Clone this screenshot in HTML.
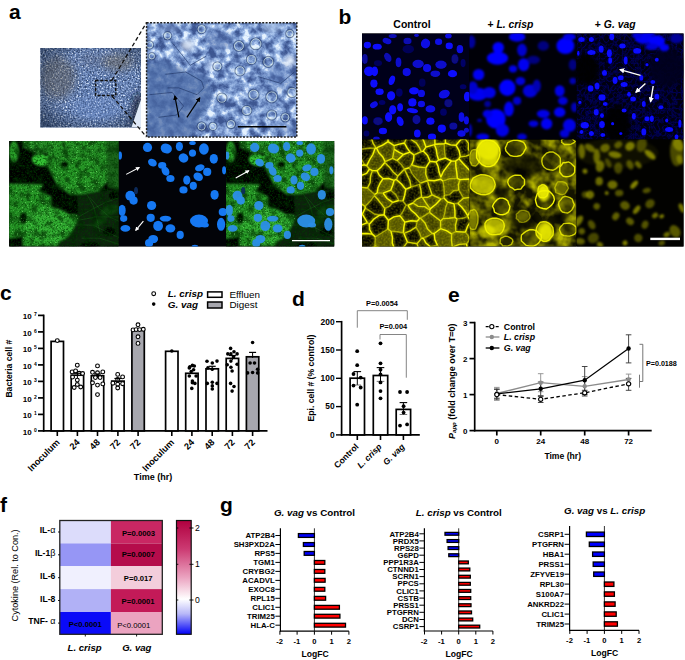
<!DOCTYPE html><html><head><meta charset="utf-8"><style>html,body{margin:0;padding:0;background:#fff;width:685px;height:660px;overflow:hidden}svg{display:block}</style></head><body><svg width="685" height="660" viewBox="0 0 685 660" font-family='"Liberation Sans", sans-serif'><defs><filter id="blur1" x="-20%" y="-20%" width="140%" height="140%"><feGaussianBlur stdDeviation="0.6"/></filter><filter id="blur2" x="-20%" y="-20%" width="140%" height="140%"><feGaussianBlur stdDeviation="1.2"/></filter><filter id="blur3" x="-20%" y="-20%" width="140%" height="140%"><feGaussianBlur stdDeviation="2.2"/></filter><clipPath id="cpS"><rect x="40.3" y="47.9" width="100.7" height="79.69999999999999"/></clipPath><filter id="bfS" color-interpolation-filters="sRGB" x="0" y="0" width="100%" height="100%"><feTurbulence type="fractalNoise" baseFrequency="0.6" numOctaves="3" seed="3" result="n"/><feColorMatrix in="n" type="matrix" values="1.8 0 0 0 -0.4  1.8 0 0 0 -0.4  1.8 0 0 0 -0.4  0 0 0 0 1" result="c"/><feComponentTransfer in="c"><feFuncR type="table" tableValues="0.2 0.3 0.4 0.54 0.85"/><feFuncG type="table" tableValues="0.28 0.4 0.51 0.64 0.9"/><feFuncB type="table" tableValues="0.44 0.58 0.71 0.82 0.97"/></feComponentTransfer></filter><filter id="blur4" x="-50%" y="-50%" width="200%" height="200%"><feGaussianBlur stdDeviation="4"/></filter><radialGradient id="vigS" cx="0.55" cy="0.45" r="0.75"><stop offset="0.55" stop-color="#000" stop-opacity="0"/><stop offset="1" stop-color="#061224" stop-opacity="0.55"/></radialGradient><clipPath id="cpZ"><rect x="146.6" y="22.8" width="150.20000000000002" height="114.2"/></clipPath><filter id="bfZ" color-interpolation-filters="sRGB" x="0" y="0" width="100%" height="100%"><feTurbulence type="fractalNoise" baseFrequency="0.12" numOctaves="4" seed="7" result="n"/><feColorMatrix in="n" type="matrix" values="2.1 0 0 0 -0.55  2.1 0 0 0 -0.55  2.1 0 0 0 -0.55  0 0 0 0 1" result="c"/><feComponentTransfer in="c"><feFuncR type="table" tableValues="0.24 0.35 0.48 0.64 0.9"/><feFuncG type="table" tableValues="0.34 0.46 0.6 0.75 0.95"/><feFuncB type="table" tableValues="0.57 0.69 0.81 0.92 1"/></feComponentTransfer></filter><filter id="rimf" x="-20%" y="-20%" width="140%" height="140%"><feGaussianBlur stdDeviation="0.35"/></filter><marker id="ahB" viewBox="0 0 10 10" refX="8" refY="5" markerWidth="4" markerHeight="4" orient="auto"><path d="M0 0 L10 5 L0 10 Z" fill="#000"/></marker><marker id="ahW" viewBox="0 0 10 10" refX="8" refY="5" markerWidth="3.8" markerHeight="3.8" orient="auto"><path d="M0 0 L10 5 L0 10 Z" fill="#fff"/></marker><clipPath id="cpG"><rect x="9.2" y="141.0" width="109.6" height="105.5"/></clipPath><clipPath id="cpB"><rect x="118.8" y="141.0" width="107.2" height="105.5"/></clipPath><clipPath id="cpM"><rect x="226.0" y="141.0" width="108.19999999999999" height="105.5"/></clipPath><filter id="speck" x="0" y="0" width="100%" height="100%"><feTurbulence type="fractalNoise" baseFrequency="0.9" numOctaves="1" seed="5" result="n"/><feColorMatrix in="n" type="matrix" values="0 0 0 0 0.55  0 0 0 0 1  0 0 0 0 0.45  4 0 0 0 -2.3"/><feComposite in2="SourceGraphic" operator="in"/></filter><filter id="gdark" x="0" y="0" width="100%" height="100%"><feTurbulence type="fractalNoise" baseFrequency="0.55" numOctaves="2" seed="8" result="n"/><feColorMatrix in="n" type="matrix" values="0 0 0 0 0  0 0 0 0 0.05  0 0 0 0 0  -3.2 0 0 0 1.75"/><feComposite in2="SourceGraphic" operator="in"/></filter><filter id="gblot" x="0" y="0" width="100%" height="100%"><feTurbulence type="fractalNoise" baseFrequency="0.13" numOctaves="2" seed="23" result="n"/><feColorMatrix in="n" type="matrix" values="0 0 0 0 0  0 0 0 0 0.02  0 0 0 0 0  -3.5 0 0 0 1.9"/><feComposite in2="SourceGraphic" operator="in"/></filter><filter id="gbright" x="0" y="0" width="100%" height="100%"><feTurbulence type="fractalNoise" baseFrequency="0.8" numOctaves="1" seed="15" result="n"/><feColorMatrix in="n" type="matrix" values="0 0 0 0 0.3  0 0 0 0 1  0 0 0 0 0.25  5 0 0 0 -3.1"/><feComposite in2="SourceGraphic" operator="in"/></filter><clipPath id="cpb00"><rect x="362.0" y="33.4" width="107.39999999999998" height="106.1"/></clipPath><clipPath id="cpb01"><rect x="362.0" y="139.5" width="107.39999999999998" height="107.1"/></clipPath><clipPath id="cpb10"><rect x="469.4" y="33.4" width="107.10000000000002" height="106.1"/></clipPath><clipPath id="cpb11"><rect x="469.4" y="139.5" width="107.10000000000002" height="107.1"/></clipPath><clipPath id="cpb20"><rect x="576.5" y="33.4" width="107.10000000000002" height="106.1"/></clipPath><clipPath id="cpb21"><rect x="576.5" y="139.5" width="107.10000000000002" height="107.1"/></clipPath><filter id="gvnet" x="0" y="0" width="100%" height="100%"><feTurbulence type="turbulence" baseFrequency="0.22" numOctaves="2" seed="9" result="n"/><feColorMatrix in="n" type="matrix" values="0 0 0 0 0  0 0 0 0 0  0 0 0 0 0.8  -2.5 0 0 0 0.9"/><feComposite in2="SourceGraphic" operator="in"/></filter><filter id="disp" x="-10%" y="-10%" width="120%" height="120%"><feTurbulence type="fractalNoise" baseFrequency="0.09" numOctaves="1" seed="4" result="n"/><feDisplacementMap in="SourceGraphic" in2="n" scale="4.5" xChannelSelector="R" yChannelSelector="G" result="d"/><feGaussianBlur in="d" stdDeviation="0.6"/></filter><filter id="ytex" x="0" y="0" width="100%" height="100%"><feTurbulence type="fractalNoise" baseFrequency="0.5" numOctaves="2" seed="2" result="n"/><feColorMatrix in="n" type="matrix" values="0 0 0 0 0.75  0 0 0 0 0.75  0 0 0 0 0  1.6 0 0 0 -0.6"/><feComposite in2="SourceGraphic" operator="in"/></filter><filter id="lchaze" x="0" y="0" width="100%" height="100%"><feTurbulence type="fractalNoise" baseFrequency="0.07" numOctaves="3" seed="21" result="n"/><feColorMatrix in="n" type="matrix" values="0 0 0 0 0.72  0 0 0 0 0.72  0 0 0 0 0  2.2 0 0 0 -0.75"/><feComposite in2="SourceGraphic" operator="in"/></filter></defs><text x="9" y="19" font-size="21" font-weight="bold" font-style="normal" text-anchor="start" fill="#000" >a</text>
<text x="338.5" y="24" font-size="21" font-weight="bold" font-style="normal" text-anchor="start" fill="#000" >b</text>
<text x="0" y="300" font-size="21" font-weight="bold" font-style="normal" text-anchor="start" fill="#000" >c</text>
<text x="292" y="306" font-size="21" font-weight="bold" font-style="normal" text-anchor="start" fill="#000" >d</text>
<text x="448" y="302" font-size="21" font-weight="bold" font-style="normal" text-anchor="start" fill="#000" >e</text>
<text x="0" y="512" font-size="21" font-weight="bold" font-style="normal" text-anchor="start" fill="#000" >f</text>
<text x="220" y="512" font-size="21" font-weight="bold" font-style="normal" text-anchor="start" fill="#000" >g</text>
<g stroke="#000" stroke-width="1.7" fill="none">
<line x1="43.7" y1="314.59999999999997" x2="43.7" y2="431.7"/>
<line x1="42.9" y1="430.9" x2="267.5" y2="430.9"/>
<line x1="38" y1="430.9" x2="43.7" y2="430.9"/>
<line x1="38" y1="414.4" x2="43.7" y2="414.4"/>
<line x1="38" y1="397.9" x2="43.7" y2="397.9"/>
<line x1="38" y1="381.4" x2="43.7" y2="381.4"/>
<line x1="38" y1="364.9" x2="43.7" y2="364.9"/>
<line x1="38" y1="348.4" x2="43.7" y2="348.4"/>
<line x1="38" y1="331.9" x2="43.7" y2="331.9"/>
<line x1="38" y1="315.4" x2="43.7" y2="315.4"/>
</g>
<text x="31.6" y="434.7" font-size="8" font-weight="bold" font-style="normal" text-anchor="end" fill="#000" >10</text>
<text x="34" y="431.5" font-size="5" font-weight="bold" font-style="normal" text-anchor="start" fill="#000" >0</text>
<text x="31.6" y="418.2" font-size="8" font-weight="bold" font-style="normal" text-anchor="end" fill="#000" >10</text>
<text x="34" y="415.0" font-size="5" font-weight="bold" font-style="normal" text-anchor="start" fill="#000" >1</text>
<text x="31.6" y="401.7" font-size="8" font-weight="bold" font-style="normal" text-anchor="end" fill="#000" >10</text>
<text x="34" y="398.5" font-size="5" font-weight="bold" font-style="normal" text-anchor="start" fill="#000" >2</text>
<text x="31.6" y="385.2" font-size="8" font-weight="bold" font-style="normal" text-anchor="end" fill="#000" >10</text>
<text x="34" y="382.0" font-size="5" font-weight="bold" font-style="normal" text-anchor="start" fill="#000" >3</text>
<text x="31.6" y="368.7" font-size="8" font-weight="bold" font-style="normal" text-anchor="end" fill="#000" >10</text>
<text x="34" y="365.5" font-size="5" font-weight="bold" font-style="normal" text-anchor="start" fill="#000" >4</text>
<text x="31.6" y="352.2" font-size="8" font-weight="bold" font-style="normal" text-anchor="end" fill="#000" >10</text>
<text x="34" y="349.0" font-size="5" font-weight="bold" font-style="normal" text-anchor="start" fill="#000" >5</text>
<text x="31.6" y="335.7" font-size="8" font-weight="bold" font-style="normal" text-anchor="end" fill="#000" >10</text>
<text x="34" y="332.5" font-size="5" font-weight="bold" font-style="normal" text-anchor="start" fill="#000" >6</text>
<text x="31.6" y="319.2" font-size="8" font-weight="bold" font-style="normal" text-anchor="end" fill="#000" >10</text>
<text x="34" y="316.0" font-size="5" font-weight="bold" font-style="normal" text-anchor="start" fill="#000" >7</text>
<text x="0" y="0" font-size="8.6" font-weight="bold" text-anchor="middle" transform="translate(11.9,368.7) rotate(-90)">Bacteria cell #</text>
<rect x="51.1" y="341.4" width="12.4" height="89.5" fill="#fff" stroke="#000" stroke-width="1.7"/>
<line x1="57.3" y1="430.9" x2="57.3" y2="436" stroke="#000" stroke-width="1.6"/>
<rect x="71.2" y="375.2" width="12.4" height="55.7" fill="#fff" stroke="#000" stroke-width="1.7"/>
<line x1="77.4" y1="430.9" x2="77.4" y2="436" stroke="#000" stroke-width="1.6"/>
<rect x="91.3" y="375.7" width="12.4" height="55.2" fill="#fff" stroke="#000" stroke-width="1.7"/>
<line x1="97.5" y1="430.9" x2="97.5" y2="436" stroke="#000" stroke-width="1.6"/>
<rect x="111.7" y="381.1" width="12.4" height="49.8" fill="#fff" stroke="#000" stroke-width="1.7"/>
<line x1="117.9" y1="430.9" x2="117.9" y2="436" stroke="#000" stroke-width="1.6"/>
<rect x="131.9" y="330.4" width="12.4" height="100.5" fill="#a7a7ae" stroke="#000" stroke-width="1.7"/>
<line x1="138.1" y1="430.9" x2="138.1" y2="436" stroke="#000" stroke-width="1.6"/>
<rect x="165.6" y="351.3" width="12.4" height="79.6" fill="#fff" stroke="#000" stroke-width="1.7"/>
<line x1="171.8" y1="430.9" x2="171.8" y2="436" stroke="#000" stroke-width="1.6"/>
<rect x="185.7" y="373.3" width="12.4" height="57.6" fill="#fff" stroke="#000" stroke-width="1.7"/>
<line x1="191.9" y1="430.9" x2="191.9" y2="436" stroke="#000" stroke-width="1.6"/>
<rect x="206.0" y="368.8" width="12.4" height="62.1" fill="#fff" stroke="#000" stroke-width="1.7"/>
<line x1="212.2" y1="430.9" x2="212.2" y2="436" stroke="#000" stroke-width="1.6"/>
<rect x="226.2" y="358.4" width="12.4" height="72.5" fill="#fff" stroke="#000" stroke-width="1.7"/>
<line x1="232.4" y1="430.9" x2="232.4" y2="436" stroke="#000" stroke-width="1.6"/>
<rect x="246.4" y="356.8" width="12.4" height="74.1" fill="#a7a7ae" stroke="#000" stroke-width="1.7"/>
<line x1="252.6" y1="430.9" x2="252.6" y2="436" stroke="#000" stroke-width="1.6"/>
<circle cx="57.3" cy="340.6" r="1.9" fill="#fff" stroke="#000" stroke-width="1.1"/>
<circle cx="77.3" cy="365.2" r="1.9" fill="#fff" stroke="#000" stroke-width="1.1"/>
<circle cx="72.1" cy="371.9" r="1.9" fill="#fff" stroke="#000" stroke-width="1.1"/>
<circle cx="75.6" cy="370.9" r="1.9" fill="#fff" stroke="#000" stroke-width="1.1"/>
<circle cx="79.2" cy="373.3" r="1.9" fill="#fff" stroke="#000" stroke-width="1.1"/>
<circle cx="82.6" cy="373.5" r="1.9" fill="#fff" stroke="#000" stroke-width="1.1"/>
<circle cx="72.6" cy="377.1" r="1.9" fill="#fff" stroke="#000" stroke-width="1.1"/>
<circle cx="77.3" cy="380.1" r="1.9" fill="#fff" stroke="#000" stroke-width="1.1"/>
<circle cx="77.3" cy="384.5" r="1.9" fill="#fff" stroke="#000" stroke-width="1.1"/>
<circle cx="74.2" cy="387.5" r="1.9" fill="#fff" stroke="#000" stroke-width="1.1"/>
<circle cx="80.7" cy="387" r="1.9" fill="#fff" stroke="#000" stroke-width="1.1"/>
<circle cx="97.5" cy="365.9" r="1.9" fill="#fff" stroke="#000" stroke-width="1.1"/>
<circle cx="92.5" cy="372.3" r="1.9" fill="#fff" stroke="#000" stroke-width="1.1"/>
<circle cx="97.5" cy="372.8" r="1.9" fill="#fff" stroke="#000" stroke-width="1.1"/>
<circle cx="102.8" cy="371.9" r="1.9" fill="#fff" stroke="#000" stroke-width="1.1"/>
<circle cx="95.4" cy="377.6" r="1.9" fill="#fff" stroke="#000" stroke-width="1.1"/>
<circle cx="100.1" cy="377.6" r="1.9" fill="#fff" stroke="#000" stroke-width="1.1"/>
<circle cx="92.5" cy="382.8" r="1.9" fill="#fff" stroke="#000" stroke-width="1.1"/>
<circle cx="97.5" cy="385.1" r="1.9" fill="#fff" stroke="#000" stroke-width="1.1"/>
<circle cx="102.8" cy="383.9" r="1.9" fill="#fff" stroke="#000" stroke-width="1.1"/>
<circle cx="97.5" cy="394.6" r="1.9" fill="#fff" stroke="#000" stroke-width="1.1"/>
<circle cx="117.7" cy="374.4" r="1.9" fill="#fff" stroke="#000" stroke-width="1.1"/>
<circle cx="122.6" cy="376.9" r="1.9" fill="#fff" stroke="#000" stroke-width="1.1"/>
<circle cx="117.7" cy="379.4" r="1.9" fill="#fff" stroke="#000" stroke-width="1.1"/>
<circle cx="112.9" cy="383.2" r="1.9" fill="#fff" stroke="#000" stroke-width="1.1"/>
<circle cx="117.7" cy="384.2" r="1.9" fill="#fff" stroke="#000" stroke-width="1.1"/>
<circle cx="122.6" cy="383.7" r="1.9" fill="#fff" stroke="#000" stroke-width="1.1"/>
<circle cx="117.7" cy="388" r="1.9" fill="#fff" stroke="#000" stroke-width="1.1"/>
<circle cx="138" cy="324.8" r="1.9" fill="#fff" stroke="#000" stroke-width="1.1"/>
<circle cx="133" cy="329.9" r="1.9" fill="#fff" stroke="#000" stroke-width="1.1"/>
<circle cx="136.1" cy="329.6" r="1.9" fill="#fff" stroke="#000" stroke-width="1.1"/>
<circle cx="139.6" cy="329.6" r="1.9" fill="#fff" stroke="#000" stroke-width="1.1"/>
<circle cx="143.3" cy="329.3" r="1.9" fill="#fff" stroke="#000" stroke-width="1.1"/>
<circle cx="138" cy="336.8" r="1.9" fill="#fff" stroke="#000" stroke-width="1.1"/>
<circle cx="138" cy="343.4" r="1.9" fill="#fff" stroke="#000" stroke-width="1.1"/>
<circle cx="171.8" cy="351.0" r="1.8" fill="#000"/>
<circle cx="192.4" cy="365.4" r="1.8" fill="#000"/>
<circle cx="189.9" cy="366.7" r="1.8" fill="#000"/>
<circle cx="194.3" cy="366" r="1.8" fill="#000"/>
<circle cx="189.3" cy="367.9" r="1.8" fill="#000"/>
<circle cx="193.6" cy="369.8" r="1.8" fill="#000"/>
<circle cx="191.2" cy="371.6" r="1.8" fill="#000"/>
<circle cx="189.3" cy="376" r="1.8" fill="#000"/>
<circle cx="196.1" cy="376" r="1.8" fill="#000"/>
<circle cx="192.4" cy="381" r="1.8" fill="#000"/>
<circle cx="192.4" cy="382.8" r="1.8" fill="#000"/>
<circle cx="194.9" cy="383.4" r="1.8" fill="#000"/>
<circle cx="191.8" cy="388.4" r="1.8" fill="#000"/>
<circle cx="207" cy="361.3" r="1.8" fill="#000"/>
<circle cx="212.3" cy="363" r="1.8" fill="#000"/>
<circle cx="217" cy="361.1" r="1.8" fill="#000"/>
<circle cx="207.9" cy="367.9" r="1.8" fill="#000"/>
<circle cx="212.3" cy="369.2" r="1.8" fill="#000"/>
<circle cx="207.3" cy="383.4" r="1.8" fill="#000"/>
<circle cx="212.3" cy="382.2" r="1.8" fill="#000"/>
<circle cx="217" cy="383.4" r="1.8" fill="#000"/>
<circle cx="212.3" cy="385.9" r="1.8" fill="#000"/>
<circle cx="212.3" cy="389" r="1.8" fill="#000"/>
<circle cx="230.6" cy="348.4" r="1.8" fill="#000"/>
<circle cx="234" cy="351.8" r="1.8" fill="#000"/>
<circle cx="227.8" cy="353.9" r="1.8" fill="#000"/>
<circle cx="230.9" cy="353.9" r="1.8" fill="#000"/>
<circle cx="237.1" cy="353.9" r="1.8" fill="#000"/>
<circle cx="233.6" cy="356.8" r="1.8" fill="#000"/>
<circle cx="230.9" cy="361.1" r="1.8" fill="#000"/>
<circle cx="227.2" cy="364.8" r="1.8" fill="#000"/>
<circle cx="237.1" cy="364.2" r="1.8" fill="#000"/>
<circle cx="230.9" cy="367.3" r="1.8" fill="#000"/>
<circle cx="232.1" cy="371" r="1.8" fill="#000"/>
<circle cx="230.6" cy="383.4" r="1.8" fill="#000"/>
<circle cx="234" cy="386.5" r="1.8" fill="#000"/>
<circle cx="232.1" cy="391.1" r="1.8" fill="#000"/>
<circle cx="252.6" cy="342.5" r="1.8" fill="#000"/>
<circle cx="250.1" cy="363" r="1.8" fill="#000"/>
<circle cx="254.5" cy="363" r="1.8" fill="#000"/>
<circle cx="247.6" cy="372.9" r="1.8" fill="#000"/>
<circle cx="252.6" cy="372.5" r="1.8" fill="#000"/>
<circle cx="257.6" cy="372.9" r="1.8" fill="#000"/>
<circle cx="257.6" cy="369.2" r="1.8" fill="#000"/>
<line x1="77.4" y1="373.3" x2="77.4" y2="378" stroke="#000" stroke-width="1"/>
<line x1="73.9" y1="373.3" x2="80.9" y2="373.3" stroke="#000" stroke-width="1.2"/>
<line x1="97.5" y1="374" x2="97.5" y2="378" stroke="#000" stroke-width="1"/>
<line x1="94.0" y1="374" x2="101.0" y2="374" stroke="#000" stroke-width="1.2"/>
<line x1="117.9" y1="378.5" x2="117.9" y2="383" stroke="#000" stroke-width="1"/>
<line x1="114.4" y1="378.5" x2="121.4" y2="378.5" stroke="#000" stroke-width="1.2"/>
<line x1="212.2" y1="366.3" x2="212.2" y2="371" stroke="#000" stroke-width="1"/>
<line x1="208.7" y1="366.3" x2="215.7" y2="366.3" stroke="#000" stroke-width="1.2"/>
<line x1="232.4" y1="355.5" x2="232.4" y2="360" stroke="#000" stroke-width="1"/>
<line x1="228.9" y1="355.5" x2="235.9" y2="355.5" stroke="#000" stroke-width="1.2"/>
<line x1="252.6" y1="352.4" x2="252.6" y2="358" stroke="#000" stroke-width="1"/>
<line x1="249.1" y1="352.4" x2="256.1" y2="352.4" stroke="#000" stroke-width="1.2"/>
<text x="0" y="0" font-size="9.2" font-weight="bold" text-anchor="end" transform="translate(60.3,443) rotate(-45)">Inoculum</text>
<text x="0" y="0" font-size="9.2" font-weight="bold" text-anchor="end" transform="translate(80.4,443) rotate(-45)">24</text>
<text x="0" y="0" font-size="9.2" font-weight="bold" text-anchor="end" transform="translate(100.5,443) rotate(-45)">48</text>
<text x="0" y="0" font-size="9.2" font-weight="bold" text-anchor="end" transform="translate(120.9,443) rotate(-45)">72</text>
<text x="0" y="0" font-size="9.2" font-weight="bold" text-anchor="end" transform="translate(141.1,443) rotate(-45)">72</text>
<text x="0" y="0" font-size="9.2" font-weight="bold" text-anchor="end" transform="translate(174.8,443) rotate(-45)">Inoculum</text>
<text x="0" y="0" font-size="9.2" font-weight="bold" text-anchor="end" transform="translate(194.9,443) rotate(-45)">24</text>
<text x="0" y="0" font-size="9.2" font-weight="bold" text-anchor="end" transform="translate(215.2,443) rotate(-45)">48</text>
<text x="0" y="0" font-size="9.2" font-weight="bold" text-anchor="end" transform="translate(235.4,443) rotate(-45)">72</text>
<text x="0" y="0" font-size="9.2" font-weight="bold" text-anchor="end" transform="translate(255.6,443) rotate(-45)">72</text>
<text x="153" y="480.3" font-size="9" font-weight="bold" font-style="normal" text-anchor="middle" fill="#000" >Time (hr)</text>
<circle cx="153.7" cy="293.7" r="1.9" fill="#fff" stroke="#000" stroke-width="1.1"/>
<circle cx="153.7" cy="304.1" r="1.8" fill="#000"/>
<text x="167.8" y="297.4" font-size="9.9" font-weight="bold" font-style="italic" text-anchor="start" fill="#000" >L. crisp</text>
<text x="167.8" y="307.6" font-size="9.9" font-weight="bold" font-style="italic" text-anchor="start" fill="#000" >G. vag</text>
<rect x="207.6" y="291.9" width="14.4" height="5.4" fill="#fff" stroke="#000" stroke-width="1.5"/>
<rect x="207.6" y="302" width="14.4" height="6" fill="#a7a7ae" stroke="#000" stroke-width="1.5"/>
<text x="229.4" y="297.7" font-size="9.9" font-weight="normal" font-style="normal" text-anchor="start" fill="#000" >Effluen</text>
<text x="229.4" y="307.8" font-size="9.9" font-weight="normal" font-style="normal" text-anchor="start" fill="#000" >Digest</text>
<g stroke="#000" stroke-width="1.7" fill="none">
<line x1="341.6" y1="320.90000000000003" x2="341.6" y2="435.7"/>
<line x1="340.8" y1="434.9" x2="419.8" y2="434.9"/>
<line x1="336" y1="434.9" x2="341.6" y2="434.9" stroke-width="1.4"/>
<line x1="336" y1="406.6" x2="341.6" y2="406.6" stroke-width="1.4"/>
<line x1="336" y1="378.3" x2="341.6" y2="378.3" stroke-width="1.4"/>
<line x1="336" y1="350.0" x2="341.6" y2="350.0" stroke-width="1.4"/>
<line x1="336" y1="321.7" x2="341.6" y2="321.7" stroke-width="1.4"/>
</g>
<text x="334.6" y="437.7" font-size="8.4" font-weight="bold" font-style="normal" text-anchor="end" fill="#000" >0</text>
<text x="334.6" y="409.40000000000003" font-size="8.4" font-weight="bold" font-style="normal" text-anchor="end" fill="#000" >50</text>
<text x="334.6" y="381.1" font-size="8.4" font-weight="bold" font-style="normal" text-anchor="end" fill="#000" >100</text>
<text x="334.6" y="352.8" font-size="8.4" font-weight="bold" font-style="normal" text-anchor="end" fill="#000" >150</text>
<text x="334.6" y="324.50000000000006" font-size="8.4" font-weight="bold" font-style="normal" text-anchor="end" fill="#000" >200</text>
<text x="0" y="0" font-size="8.6" font-weight="bold" text-anchor="middle" transform="translate(313.5,378) rotate(-90)">Epi. cell # (% control)</text>
<rect x="350.1" y="378.2" width="14.4" height="56.7" fill="#fff" stroke="#000" stroke-width="1.7"/>
<line x1="357.3" y1="434.9" x2="357.3" y2="440" stroke="#000" stroke-width="1.6"/>
<rect x="373.3" y="375.5" width="14.4" height="59.4" fill="#fff" stroke="#000" stroke-width="1.7"/>
<line x1="380.5" y1="434.9" x2="380.5" y2="440" stroke="#000" stroke-width="1.6"/>
<rect x="396.2" y="409.4" width="14.4" height="25.5" fill="#fff" stroke="#000" stroke-width="1.7"/>
<line x1="403.4" y1="434.9" x2="403.4" y2="440" stroke="#000" stroke-width="1.6"/>
<line x1="357.3" y1="371.6" x2="357.3" y2="385" stroke="#000" stroke-width="1"/>
<line x1="353.5" y1="371.6" x2="361.1" y2="371.6" stroke="#000" stroke-width="1.1"/>
<line x1="353.5" y1="385" x2="361.1" y2="385" stroke="#555" stroke-width="0.8"/>
<line x1="380.5" y1="367.6" x2="380.5" y2="381.4" stroke="#000" stroke-width="1"/>
<line x1="376.7" y1="367.6" x2="384.3" y2="367.6" stroke="#000" stroke-width="1.1"/>
<line x1="376.7" y1="381.4" x2="384.3" y2="381.4" stroke="#555" stroke-width="0.8"/>
<line x1="403.4" y1="402.6" x2="403.4" y2="414.5" stroke="#000" stroke-width="1"/>
<line x1="399.59999999999997" y1="402.6" x2="407.2" y2="402.6" stroke="#000" stroke-width="1.1"/>
<line x1="399.59999999999997" y1="414.5" x2="407.2" y2="414.5" stroke="#555" stroke-width="0.8"/>
<circle cx="357.2" cy="351.2" r="1.9" fill="#000"/>
<circle cx="357.2" cy="365.2" r="1.9" fill="#000"/>
<circle cx="353.5" cy="374" r="1.9" fill="#000"/>
<circle cx="360.7" cy="377.6" r="1.9" fill="#000"/>
<circle cx="353.5" cy="385.6" r="1.9" fill="#000"/>
<circle cx="360.7" cy="387.5" r="1.9" fill="#000"/>
<circle cx="357.2" cy="404.7" r="1.9" fill="#000"/>
<circle cx="380.5" cy="343.3" r="1.9" fill="#000"/>
<circle cx="380.5" cy="363.3" r="1.9" fill="#000"/>
<circle cx="380.5" cy="369.7" r="1.9" fill="#000"/>
<circle cx="380.5" cy="374.4" r="1.9" fill="#000"/>
<circle cx="380.5" cy="382.4" r="1.9" fill="#000"/>
<circle cx="380.5" cy="391.1" r="1.9" fill="#000"/>
<circle cx="380.5" cy="398.3" r="1.9" fill="#000"/>
<circle cx="400" cy="392" r="1.9" fill="#000"/>
<circle cx="407.1" cy="392" r="1.9" fill="#000"/>
<circle cx="403.6" cy="406.2" r="1.9" fill="#000"/>
<circle cx="403.6" cy="412.6" r="1.9" fill="#000"/>
<circle cx="400" cy="425.6" r="1.9" fill="#000"/>
<circle cx="407.1" cy="424.4" r="1.9" fill="#000"/>
<path d="M357.3 327.7 V310.7 H407.3 V319.8" fill="none" stroke="#777" stroke-width="0.9"/>
<path d="M380 339.5 V334.5 H406.3 V377.7" fill="none" stroke="#777" stroke-width="0.9"/>
<text x="382" y="305.6" font-size="7.4" font-weight="bold" font-style="normal" text-anchor="middle" fill="#000" >P=0.0054</text>
<text x="393.3" y="329.4" font-size="7.4" font-weight="bold" font-style="normal" text-anchor="middle" fill="#000" >P=0.004</text>
<text x="0" y="0" font-size="8.6" font-weight="bold" font-style="normal" text-anchor="end" transform="translate(359.1,447.2) rotate(-45)">Control</text>
<text x="0" y="0" font-size="8.6" font-weight="bold" font-style="italic" text-anchor="end" transform="translate(382.3,447.2) rotate(-45)">L. crisp</text>
<text x="0" y="0" font-size="8.6" font-weight="bold" font-style="italic" text-anchor="end" transform="translate(405.2,447.2) rotate(-45)">G. vag</text>
<g stroke="#000" stroke-width="1.7" fill="none">
<line x1="474.7" y1="321.8" x2="474.7" y2="431.4"/>
<line x1="473.9" y1="430.6" x2="651.7" y2="430.6"/>
<line x1="469.5" y1="430.6" x2="474.7" y2="430.6"/>
<line x1="469.5" y1="394.6" x2="474.7" y2="394.6"/>
<line x1="469.5" y1="358.6" x2="474.7" y2="358.6"/>
<line x1="469.5" y1="322.6" x2="474.7" y2="322.6"/>
<line x1="496.8" y1="430.6" x2="496.8" y2="435.5"/>
<line x1="540.7" y1="430.6" x2="540.7" y2="435.5"/>
<line x1="584.7" y1="430.6" x2="584.7" y2="435.5"/>
<line x1="628.6" y1="430.6" x2="628.6" y2="435.5"/>
</g>
<text x="467.5" y="433.5" font-size="8" font-weight="bold" font-style="normal" text-anchor="end" fill="#000" >0</text>
<text x="467.5" y="397.5" font-size="8" font-weight="bold" font-style="normal" text-anchor="end" fill="#000" >1</text>
<text x="467.5" y="361.5" font-size="8" font-weight="bold" font-style="normal" text-anchor="end" fill="#000" >2</text>
<text x="467.5" y="325.5" font-size="8" font-weight="bold" font-style="normal" text-anchor="end" fill="#000" >3</text>
<text x="496.8" y="444" font-size="8" font-weight="bold" font-style="normal" text-anchor="middle" fill="#000" >0</text>
<text x="540.7333333333333" y="444" font-size="8" font-weight="bold" font-style="normal" text-anchor="middle" fill="#000" >24</text>
<text x="584.6666666666667" y="444" font-size="8" font-weight="bold" font-style="normal" text-anchor="middle" fill="#000" >48</text>
<text x="628.6" y="444" font-size="8" font-weight="bold" font-style="normal" text-anchor="middle" fill="#000" >72</text>
<text x="562.7" y="459" font-size="8.6" font-weight="bold" font-style="normal" text-anchor="middle" fill="#000" >Time (hr)</text>
<text x="0" y="0" font-size="9.0" font-weight="bold" text-anchor="middle" transform="translate(454.6,381.2) rotate(-90)"><tspan font-style="italic">P</tspan><tspan font-size="6" font-style="italic" dy="1.5">app</tspan><tspan dy="-1.5"> (fold change over T=0)</tspan></text>
<line x1="496.8" y1="398.9" x2="496.8" y2="387.4" stroke="#8c8c8c" stroke-width="0.9"/>
<line x1="494.0" y1="398.9" x2="499.6" y2="398.9" stroke="#8c8c8c" stroke-width="0.9"/>
<line x1="494.0" y1="387.4" x2="499.6" y2="387.4" stroke="#8c8c8c" stroke-width="0.9"/>
<line x1="540.7" y1="391.7" x2="540.7" y2="373.7" stroke="#8c8c8c" stroke-width="0.9"/>
<line x1="537.9" y1="391.7" x2="543.5" y2="391.7" stroke="#8c8c8c" stroke-width="0.9"/>
<line x1="537.9" y1="373.7" x2="543.5" y2="373.7" stroke="#8c8c8c" stroke-width="0.9"/>
<line x1="584.7" y1="393.9" x2="584.7" y2="376.6" stroke="#8c8c8c" stroke-width="0.9"/>
<line x1="581.9" y1="393.9" x2="587.5" y2="393.9" stroke="#8c8c8c" stroke-width="0.9"/>
<line x1="581.9" y1="376.6" x2="587.5" y2="376.6" stroke="#8c8c8c" stroke-width="0.9"/>
<line x1="628.6" y1="383.8" x2="628.6" y2="374.1" stroke="#8c8c8c" stroke-width="0.9"/>
<line x1="625.8" y1="383.8" x2="631.4" y2="383.8" stroke="#8c8c8c" stroke-width="0.9"/>
<line x1="625.8" y1="374.1" x2="631.4" y2="374.1" stroke="#8c8c8c" stroke-width="0.9"/>
<line x1="496.8" y1="400.0" x2="496.8" y2="389.2" stroke="#333" stroke-width="0.9"/>
<line x1="494.0" y1="400.0" x2="499.6" y2="400.0" stroke="#333" stroke-width="0.9"/>
<line x1="494.0" y1="389.2" x2="499.6" y2="389.2" stroke="#333" stroke-width="0.9"/>
<line x1="540.7" y1="402.5" x2="540.7" y2="396.4" stroke="#333" stroke-width="0.9"/>
<line x1="537.9" y1="402.5" x2="543.5" y2="402.5" stroke="#333" stroke-width="0.9"/>
<line x1="537.9" y1="396.4" x2="543.5" y2="396.4" stroke="#333" stroke-width="0.9"/>
<line x1="584.7" y1="396.0" x2="584.7" y2="390.3" stroke="#333" stroke-width="0.9"/>
<line x1="581.9" y1="396.0" x2="587.5" y2="396.0" stroke="#333" stroke-width="0.9"/>
<line x1="581.9" y1="390.3" x2="587.5" y2="390.3" stroke="#333" stroke-width="0.9"/>
<line x1="628.6" y1="390.3" x2="628.6" y2="378.4" stroke="#333" stroke-width="0.9"/>
<line x1="625.8" y1="390.3" x2="631.4" y2="390.3" stroke="#333" stroke-width="0.9"/>
<line x1="625.8" y1="378.4" x2="631.4" y2="378.4" stroke="#333" stroke-width="0.9"/>
<line x1="496.8" y1="398.2" x2="496.8" y2="389.2" stroke="#333" stroke-width="0.9"/>
<line x1="494.0" y1="398.2" x2="499.6" y2="398.2" stroke="#333" stroke-width="0.9"/>
<line x1="494.0" y1="389.2" x2="499.6" y2="389.2" stroke="#333" stroke-width="0.9"/>
<line x1="540.7" y1="395.7" x2="540.7" y2="382.0" stroke="#333" stroke-width="0.9"/>
<line x1="537.9" y1="395.7" x2="543.5" y2="395.7" stroke="#333" stroke-width="0.9"/>
<line x1="537.9" y1="382.0" x2="543.5" y2="382.0" stroke="#333" stroke-width="0.9"/>
<line x1="584.7" y1="394.6" x2="584.7" y2="366.5" stroke="#333" stroke-width="0.9"/>
<line x1="581.9" y1="394.6" x2="587.5" y2="394.6" stroke="#333" stroke-width="0.9"/>
<line x1="581.9" y1="366.5" x2="587.5" y2="366.5" stroke="#333" stroke-width="0.9"/>
<line x1="628.6" y1="362.9" x2="628.6" y2="334.8" stroke="#333" stroke-width="0.9"/>
<line x1="625.8" y1="362.9" x2="631.4" y2="362.9" stroke="#333" stroke-width="0.9"/>
<line x1="625.8" y1="334.8" x2="631.4" y2="334.8" stroke="#333" stroke-width="0.9"/>
<polyline points="496.8,393.5 540.7,382.7 584.7,386.3 628.6,379.5" fill="none" stroke="#8c8c8c" stroke-width="1.3"/>
<polyline points="496.8,394.6 540.7,399.3 584.7,392.8 628.6,383.8" fill="none" stroke="#000" stroke-width="1.3" stroke-dasharray="3.5,2.5"/>
<polyline points="496.8,393.9 540.7,388.8 584.7,380.2 628.6,348.5" fill="none" stroke="#000" stroke-width="1.3"/>
<circle cx="496.8" cy="393.5" r="2.2" fill="#8c8c8c"/>
<circle cx="540.7" cy="382.7" r="2.2" fill="#8c8c8c"/>
<circle cx="584.7" cy="386.3" r="2.2" fill="#8c8c8c"/>
<circle cx="628.6" cy="379.5" r="2.2" fill="#8c8c8c"/>
<circle cx="496.8" cy="393.9" r="2.2" fill="#000"/>
<circle cx="540.7" cy="388.8" r="2.2" fill="#000"/>
<circle cx="584.7" cy="380.2" r="2.2" fill="#000"/>
<circle cx="628.6" cy="348.5" r="2.2" fill="#000"/>
<circle cx="496.8" cy="394.6" r="2.1" fill="#fff" stroke="#000" stroke-width="1.1"/>
<circle cx="540.7" cy="399.3" r="2.1" fill="#fff" stroke="#000" stroke-width="1.1"/>
<circle cx="584.7" cy="392.8" r="2.1" fill="#fff" stroke="#000" stroke-width="1.1"/>
<circle cx="628.6" cy="383.8" r="2.1" fill="#fff" stroke="#000" stroke-width="1.1"/>
<line x1="485.7" y1="326.6" x2="499.4" y2="326.6" stroke="#000" stroke-width="1.3" stroke-dasharray="3,2"/>
<circle cx="491.8" cy="326.6" r="2.1" fill="#fff" stroke="#000" stroke-width="1.1"/>
<line x1="485.7" y1="337" x2="499.4" y2="337" stroke="#8c8c8c" stroke-width="1.3"/>
<circle cx="491.8" cy="337" r="2.2" fill="#8c8c8c"/>
<line x1="485.7" y1="348" x2="499.4" y2="348" stroke="#000" stroke-width="1.3"/>
<circle cx="491.8" cy="348" r="2.2" fill="#000"/>
<text x="503.8" y="330" font-size="8.8" font-weight="bold" font-style="normal" text-anchor="start" fill="#000" >Control</text>
<text x="503.8" y="340.4" font-size="8.8" font-weight="bold" font-style="italic" text-anchor="start" fill="#000" >L. crisp</text>
<text x="503.8" y="351.4" font-size="8.8" font-weight="bold" font-style="italic" text-anchor="start" fill="#000" >G. vag</text>
<path d="M639.5 344.3 H642.8 V381.5 H639.7" fill="none" stroke="#666" stroke-width="0.9"/>
<line x1="639.5" y1="374.7" x2="639.5" y2="387.7" stroke="#666" stroke-width="0.9"/>
<text x="645.9" y="365.8" font-size="7.2" font-weight="bold" font-style="normal" text-anchor="start" fill="#000" >P=0.0188</text>
<rect x="59.8" y="520.5" width="51.1" height="22.9" fill="#dcdcfb"/>
<rect x="110.9" y="520.5" width="51.4" height="22.9" fill="#c92763"/>
<rect x="59.8" y="543.4" width="51.1" height="22.8" fill="#9696f5"/>
<rect x="110.9" y="543.4" width="51.4" height="22.8" fill="#b50c4b"/>
<rect x="59.8" y="566.2" width="51.1" height="22.9" fill="#f0f0fe"/>
<rect x="110.9" y="566.2" width="51.4" height="22.9" fill="#f3cddb"/>
<rect x="59.8" y="589.1" width="51.1" height="22.9" fill="#b1b1f6"/>
<rect x="110.9" y="589.1" width="51.4" height="22.9" fill="#c31a58"/>
<rect x="59.8" y="612.0" width="51.1" height="22.3" fill="#0a0af8"/>
<rect x="110.9" y="612.0" width="51.4" height="22.3" fill="#eba3c0"/>
<text x="138.5" y="536.1" font-size="7.7" font-weight="bold" font-style="normal" text-anchor="middle" fill="#000" >P=0.0003</text>
<text x="138.2" y="557.2" font-size="7.7" font-weight="bold" font-style="normal" text-anchor="middle" fill="#000" >P=0.0007</text>
<text x="138.2" y="581.2" font-size="7.7" font-weight="bold" font-style="normal" text-anchor="middle" fill="#000" >P=0.017</text>
<text x="138.1" y="603.9" font-size="7.7" font-weight="bold" font-style="normal" text-anchor="middle" fill="#000" >P=0.0001</text>
<text x="85.3" y="627.3" font-size="7.7" font-weight="bold" font-style="normal" text-anchor="middle" fill="#000" >P&lt;0.0001</text>
<text x="133.8" y="627.8" font-size="7.7" font-weight="normal" font-style="normal" text-anchor="middle" fill="#000" >P&lt;0.0001</text>
<rect x="59.8" y="520.5" width="102.5" height="113.8" fill="none" stroke="#222" stroke-width="1.3"/>
<text x="55.4" y="533.3" font-size="8.6" font-weight="bold" text-anchor="end">IL-<tspan font-weight="normal" font-size="9">&#945;</tspan></text>
<line x1="58" y1="532.0" x2="59.8" y2="532.0" stroke="#000" stroke-width="0.9"/>
<text x="55.4" y="555.9" font-size="8.6" font-weight="bold" text-anchor="end">IL-1<tspan font-weight="normal" font-size="9">&#946;</tspan></text>
<line x1="58" y1="554.8" x2="59.8" y2="554.8" stroke="#000" stroke-width="0.9"/>
<text x="55.4" y="578.7" font-size="8.6" font-weight="bold" text-anchor="end">IL-6<tspan font-weight="normal" font-size="9"></tspan></text>
<line x1="58" y1="577.7" x2="59.8" y2="577.7" stroke="#000" stroke-width="0.9"/>
<text x="55.4" y="601.6" font-size="8.6" font-weight="bold" text-anchor="end">IL-8<tspan font-weight="normal" font-size="9"></tspan></text>
<line x1="58" y1="600.5" x2="59.8" y2="600.5" stroke="#000" stroke-width="0.9"/>
<text x="55.4" y="624.4" font-size="8.6" font-weight="bold" text-anchor="end">TNF- <tspan font-weight="normal" font-size="9">&#945;</tspan></text>
<line x1="58" y1="623.1" x2="59.8" y2="623.1" stroke="#000" stroke-width="0.9"/>
<line x1="85.3" y1="634.3" x2="85.3" y2="636.5" stroke="#000" stroke-width="0.9"/>
<line x1="136.6" y1="634.3" x2="136.6" y2="636.5" stroke="#000" stroke-width="0.9"/>
<text x="0" y="0" font-size="9.1" font-weight="normal" text-anchor="middle" transform="translate(17.7,575.4) rotate(-90)">Cytokine (Rel. to Con.)</text>
<text x="84.6" y="651" font-size="9.6" font-weight="bold" font-style="italic" text-anchor="middle" fill="#000" >L. crisp</text>
<text x="136.8" y="651" font-size="9.6" font-weight="bold" font-style="italic" text-anchor="middle" fill="#000" >G. vag</text>
<defs><linearGradient id="cb" x1="0" y1="0" x2="0" y2="1"><stop offset="0" stop-color="#b0003f"/><stop offset="0.25" stop-color="#cc3a72"/><stop offset="0.5" stop-color="#eba3c0"/><stop offset="0.69" stop-color="#ffffff"/><stop offset="0.82" stop-color="#b8b8f8"/><stop offset="1" stop-color="#0000f8"/></linearGradient></defs>
<rect x="176.5" y="520.5" width="14.7" height="113.8" fill="url(#cb)" stroke="#111" stroke-width="1.2"/>
<line x1="176.5" y1="528" x2="178.3" y2="528" stroke="#000" stroke-width="0.9"/>
<line x1="189.4" y1="528" x2="193.5" y2="528" stroke="#000" stroke-width="0.9"/>
<text x="195" y="531" font-size="8.6" font-weight="normal" font-style="normal" text-anchor="start" fill="#000" >2</text>
<line x1="176.5" y1="564.3" x2="178.3" y2="564.3" stroke="#000" stroke-width="0.9"/>
<line x1="189.4" y1="564.3" x2="193.5" y2="564.3" stroke="#000" stroke-width="0.9"/>
<text x="195" y="567.3" font-size="8.6" font-weight="normal" font-style="normal" text-anchor="start" fill="#000" >1</text>
<line x1="176.5" y1="600" x2="178.3" y2="600" stroke="#000" stroke-width="0.9"/>
<line x1="189.4" y1="600" x2="193.5" y2="600" stroke="#000" stroke-width="0.9"/>
<text x="195" y="603" font-size="8.6" font-weight="normal" font-style="normal" text-anchor="start" fill="#000" >0</text>
<line x1="280.4" y1="528.3" x2="280.4" y2="631.8000000000001" stroke="#000" stroke-width="1.2"/>
<line x1="279.79999999999995" y1="631.2" x2="348.9" y2="631.2" stroke="#000" stroke-width="1.2"/>
<line x1="279.9" y1="631.2" x2="279.9" y2="634.7" stroke="#000" stroke-width="1"/>
<text x="279.59999999999997" y="644.2" font-size="7.6" font-weight="bold" font-style="normal" text-anchor="middle" fill="#000" >-2</text>
<line x1="297.1" y1="631.2" x2="297.1" y2="634.7" stroke="#000" stroke-width="1"/>
<text x="296.84999999999997" y="644.2" font-size="7.6" font-weight="bold" font-style="normal" text-anchor="middle" fill="#000" >-1</text>
<line x1="314.4" y1="631.2" x2="314.4" y2="634.7" stroke="#000" stroke-width="1"/>
<text x="314.4" y="644.2" font-size="7.6" font-weight="bold" font-style="normal" text-anchor="middle" fill="#000" >0</text>
<line x1="331.6" y1="631.2" x2="331.6" y2="634.7" stroke="#000" stroke-width="1"/>
<text x="331.65" y="644.2" font-size="7.6" font-weight="bold" font-style="normal" text-anchor="middle" fill="#000" >1</text>
<line x1="348.9" y1="631.2" x2="348.9" y2="634.7" stroke="#000" stroke-width="1"/>
<text x="348.9" y="644.2" font-size="7.6" font-weight="bold" font-style="normal" text-anchor="middle" fill="#000" >2</text>
<text x="315" y="656.7" font-size="8.6" font-weight="bold" font-style="normal" text-anchor="middle" fill="#000" >LogFC</text>
<line x1="314.4" y1="528.3" x2="314.4" y2="631.2" stroke="#000" stroke-width="0.8"/>
<rect x="298.4" y="533.6" width="16.0" height="3.8" fill="#0000ff" stroke="#000" stroke-width="1.3"/>
<line x1="275.4" y1="535.5" x2="280.4" y2="535.5" stroke="#000" stroke-width="1"/>
<text x="274.79999999999995" y="538.2" font-size="7.8" font-weight="bold" font-style="normal" text-anchor="end" fill="#000" >ATP2B4</text>
<rect x="303.4" y="542.6" width="11.0" height="3.8" fill="#0000ff" stroke="#000" stroke-width="1.3"/>
<line x1="275.4" y1="544.5" x2="280.4" y2="544.5" stroke="#000" stroke-width="1"/>
<text x="274.79999999999995" y="547.1700000000001" font-size="7.8" font-weight="bold" font-style="normal" text-anchor="end" fill="#000" >SH3PXD2A</text>
<rect x="304.2" y="551.5" width="10.2" height="3.8" fill="#0000ff" stroke="#000" stroke-width="1.3"/>
<line x1="275.4" y1="553.4" x2="280.4" y2="553.4" stroke="#000" stroke-width="1"/>
<text x="274.79999999999995" y="556.1400000000001" font-size="7.8" font-weight="bold" font-style="normal" text-anchor="end" fill="#000" >RPS5</text>
<rect x="314.4" y="560.5" width="10.4" height="3.8" fill="#ff0000" stroke="#000" stroke-width="1.3"/>
<line x1="275.4" y1="562.4" x2="280.4" y2="562.4" stroke="#000" stroke-width="1"/>
<text x="274.79999999999995" y="565.11" font-size="7.8" font-weight="bold" font-style="normal" text-anchor="end" fill="#000" >TGM1</text>
<rect x="314.4" y="569.5" width="10.4" height="3.8" fill="#ff0000" stroke="#000" stroke-width="1.3"/>
<line x1="275.4" y1="571.4" x2="280.4" y2="571.4" stroke="#000" stroke-width="1"/>
<text x="274.79999999999995" y="574.08" font-size="7.8" font-weight="bold" font-style="normal" text-anchor="end" fill="#000" >CRYBG2</text>
<rect x="314.4" y="578.4" width="10.7" height="3.8" fill="#ff0000" stroke="#000" stroke-width="1.3"/>
<line x1="275.4" y1="580.4" x2="280.4" y2="580.4" stroke="#000" stroke-width="1"/>
<text x="274.79999999999995" y="583.0500000000001" font-size="7.8" font-weight="bold" font-style="normal" text-anchor="end" fill="#000" >ACADVL</text>
<rect x="314.4" y="587.4" width="10.4" height="3.8" fill="#ff0000" stroke="#000" stroke-width="1.3"/>
<line x1="275.4" y1="589.3" x2="280.4" y2="589.3" stroke="#000" stroke-width="1"/>
<text x="274.79999999999995" y="592.0200000000001" font-size="7.8" font-weight="bold" font-style="normal" text-anchor="end" fill="#000" >EXOC8</text>
<rect x="314.4" y="596.4" width="11.2" height="3.8" fill="#ff0000" stroke="#000" stroke-width="1.3"/>
<line x1="275.4" y1="598.3" x2="280.4" y2="598.3" stroke="#000" stroke-width="1"/>
<text x="274.79999999999995" y="600.99" font-size="7.8" font-weight="bold" font-style="normal" text-anchor="end" fill="#000" >RPL15</text>
<rect x="314.4" y="605.4" width="25.0" height="3.8" fill="#ff0000" stroke="#000" stroke-width="1.3"/>
<line x1="275.4" y1="607.3" x2="280.4" y2="607.3" stroke="#000" stroke-width="1"/>
<text x="274.79999999999995" y="609.96" font-size="7.8" font-weight="bold" font-style="normal" text-anchor="end" fill="#000" >CLIC1</text>
<rect x="314.4" y="614.3" width="25.5" height="3.8" fill="#ff0000" stroke="#000" stroke-width="1.3"/>
<line x1="275.4" y1="616.2" x2="280.4" y2="616.2" stroke="#000" stroke-width="1"/>
<text x="274.79999999999995" y="618.9300000000001" font-size="7.8" font-weight="bold" font-style="normal" text-anchor="end" fill="#000" >TRIM25</text>
<rect x="314.4" y="623.3" width="31.1" height="3.8" fill="#ff0000" stroke="#000" stroke-width="1.3"/>
<line x1="275.4" y1="625.2" x2="280.4" y2="625.2" stroke="#000" stroke-width="1"/>
<text x="274.79999999999995" y="627.9000000000001" font-size="7.8" font-weight="bold" font-style="normal" text-anchor="end" fill="#000" >HLA-C</text>
<text x="314.5" y="515.8" font-size="9.8" font-weight="bold" text-anchor="middle"><tspan font-style="italic">G. vag</tspan> vs Control</text>
<line x1="424.4" y1="528.3" x2="424.4" y2="631.6" stroke="#000" stroke-width="1.2"/>
<line x1="423.79999999999995" y1="631.0" x2="492.9" y2="631.0" stroke="#000" stroke-width="1.2"/>
<line x1="424.5" y1="631.0" x2="424.5" y2="634.5" stroke="#000" stroke-width="1"/>
<text x="424.2" y="644.0" font-size="7.6" font-weight="bold" font-style="normal" text-anchor="middle" fill="#000" >-2</text>
<line x1="441.6" y1="631.0" x2="441.6" y2="634.5" stroke="#000" stroke-width="1"/>
<text x="441.29999999999995" y="644.0" font-size="7.6" font-weight="bold" font-style="normal" text-anchor="middle" fill="#000" >-1</text>
<line x1="458.7" y1="631.0" x2="458.7" y2="634.5" stroke="#000" stroke-width="1"/>
<text x="458.7" y="644.0" font-size="7.6" font-weight="bold" font-style="normal" text-anchor="middle" fill="#000" >0</text>
<line x1="475.8" y1="631.0" x2="475.8" y2="634.5" stroke="#000" stroke-width="1"/>
<text x="475.8" y="644.0" font-size="7.6" font-weight="bold" font-style="normal" text-anchor="middle" fill="#000" >1</text>
<line x1="492.9" y1="631.0" x2="492.9" y2="634.5" stroke="#000" stroke-width="1"/>
<text x="492.9" y="644.0" font-size="7.6" font-weight="bold" font-style="normal" text-anchor="middle" fill="#000" >2</text>
<text x="459.2" y="656.5" font-size="8.6" font-weight="bold" font-style="normal" text-anchor="middle" fill="#000" >LogFC</text>
<line x1="458.7" y1="528.3" x2="458.7" y2="631.0" stroke="#000" stroke-width="0.8"/>
<rect x="445.0" y="532.4" width="13.7" height="2.8" fill="#0000ff" stroke="#000" stroke-width="1.3"/>
<line x1="419.4" y1="533.8" x2="424.4" y2="533.8" stroke="#000" stroke-width="1"/>
<text x="418.79999999999995" y="536.5" font-size="7.8" font-weight="bold" font-style="normal" text-anchor="end" fill="#000" >ATP2B4</text>
<rect x="447.1" y="539.6" width="11.6" height="2.8" fill="#0000ff" stroke="#000" stroke-width="1.3"/>
<line x1="419.4" y1="540.9" x2="424.4" y2="540.9" stroke="#000" stroke-width="1"/>
<text x="418.79999999999995" y="543.64" font-size="7.8" font-weight="bold" font-style="normal" text-anchor="end" fill="#000" >PRDX5</text>
<rect x="448.1" y="546.7" width="10.6" height="2.8" fill="#0000ff" stroke="#000" stroke-width="1.3"/>
<line x1="419.4" y1="548.1" x2="424.4" y2="548.1" stroke="#000" stroke-width="1"/>
<text x="418.79999999999995" y="550.78" font-size="7.8" font-weight="bold" font-style="normal" text-anchor="end" fill="#000" >RPS28</text>
<rect x="448.8" y="553.8" width="9.9" height="2.8" fill="#0000ff" stroke="#000" stroke-width="1.3"/>
<line x1="419.4" y1="555.2" x2="424.4" y2="555.2" stroke="#000" stroke-width="1"/>
<text x="418.79999999999995" y="557.92" font-size="7.8" font-weight="bold" font-style="normal" text-anchor="end" fill="#000" >G6PD</text>
<rect x="458.7" y="561.0" width="9.6" height="2.8" fill="#ff0000" stroke="#000" stroke-width="1.3"/>
<line x1="419.4" y1="562.4" x2="424.4" y2="562.4" stroke="#000" stroke-width="1"/>
<text x="418.79999999999995" y="565.06" font-size="7.8" font-weight="bold" font-style="normal" text-anchor="end" fill="#000" >PPP1R3A</text>
<rect x="458.7" y="568.1" width="11.1" height="2.8" fill="#ff0000" stroke="#000" stroke-width="1.3"/>
<line x1="419.4" y1="569.5" x2="424.4" y2="569.5" stroke="#000" stroke-width="1"/>
<text x="418.79999999999995" y="572.2" font-size="7.8" font-weight="bold" font-style="normal" text-anchor="end" fill="#000" >CTNND1</text>
<rect x="458.7" y="575.3" width="11.6" height="2.8" fill="#ff0000" stroke="#000" stroke-width="1.3"/>
<line x1="419.4" y1="576.6" x2="424.4" y2="576.6" stroke="#000" stroke-width="1"/>
<text x="418.79999999999995" y="579.34" font-size="7.8" font-weight="bold" font-style="normal" text-anchor="end" fill="#000" >SCRN1</text>
<rect x="458.7" y="582.4" width="11.6" height="2.8" fill="#ff0000" stroke="#000" stroke-width="1.3"/>
<line x1="419.4" y1="583.8" x2="424.4" y2="583.8" stroke="#000" stroke-width="1"/>
<text x="418.79999999999995" y="586.48" font-size="7.8" font-weight="bold" font-style="normal" text-anchor="end" fill="#000" >PPCS</text>
<rect x="458.7" y="589.5" width="12.0" height="2.8" fill="#ff0000" stroke="#000" stroke-width="1.3"/>
<line x1="419.4" y1="590.9" x2="424.4" y2="590.9" stroke="#000" stroke-width="1"/>
<text x="418.79999999999995" y="593.62" font-size="7.8" font-weight="bold" font-style="normal" text-anchor="end" fill="#000" >CLIC1</text>
<rect x="458.7" y="596.7" width="12.0" height="2.8" fill="#ff0000" stroke="#000" stroke-width="1.3"/>
<line x1="419.4" y1="598.1" x2="424.4" y2="598.1" stroke="#000" stroke-width="1"/>
<text x="418.79999999999995" y="600.76" font-size="7.8" font-weight="bold" font-style="normal" text-anchor="end" fill="#000" >CSTB</text>
<rect x="458.7" y="603.8" width="12.3" height="2.8" fill="#ff0000" stroke="#000" stroke-width="1.3"/>
<line x1="419.4" y1="605.2" x2="424.4" y2="605.2" stroke="#000" stroke-width="1"/>
<text x="418.79999999999995" y="607.9" font-size="7.8" font-weight="bold" font-style="normal" text-anchor="end" fill="#000" >PRSS1</text>
<rect x="458.7" y="611.0" width="12.8" height="2.8" fill="#ff0000" stroke="#000" stroke-width="1.3"/>
<line x1="419.4" y1="612.3" x2="424.4" y2="612.3" stroke="#000" stroke-width="1"/>
<text x="418.79999999999995" y="615.04" font-size="7.8" font-weight="bold" font-style="normal" text-anchor="end" fill="#000" >PTGFRN</text>
<rect x="458.7" y="618.1" width="14.0" height="2.8" fill="#ff0000" stroke="#000" stroke-width="1.3"/>
<line x1="419.4" y1="619.5" x2="424.4" y2="619.5" stroke="#000" stroke-width="1"/>
<text x="418.79999999999995" y="622.18" font-size="7.8" font-weight="bold" font-style="normal" text-anchor="end" fill="#000" >DCN</text>
<rect x="458.7" y="625.2" width="21.0" height="2.8" fill="#ff0000" stroke="#000" stroke-width="1.3"/>
<line x1="419.4" y1="626.6" x2="424.4" y2="626.6" stroke="#000" stroke-width="1"/>
<text x="418.79999999999995" y="629.3199999999999" font-size="7.8" font-weight="bold" font-style="normal" text-anchor="end" fill="#000" >CSRP1</text>
<text x="458.8" y="515.8" font-size="9.8" font-weight="bold" text-anchor="middle"><tspan font-style="italic">L. crisp</tspan> vs Control</text>
<line x1="569.6" y1="526.0" x2="569.6" y2="631.0" stroke="#000" stroke-width="1.2"/>
<line x1="569.0" y1="630.4" x2="639.0" y2="630.4" stroke="#000" stroke-width="1.2"/>
<line x1="569.8" y1="630.4" x2="569.8" y2="633.9" stroke="#000" stroke-width="1"/>
<text x="569.5" y="643.4" font-size="7.6" font-weight="bold" font-style="normal" text-anchor="middle" fill="#000" >-2</text>
<line x1="587.1" y1="630.4" x2="587.1" y2="633.9" stroke="#000" stroke-width="1"/>
<text x="586.8000000000001" y="643.4" font-size="7.6" font-weight="bold" font-style="normal" text-anchor="middle" fill="#000" >-1</text>
<line x1="604.4" y1="630.4" x2="604.4" y2="633.9" stroke="#000" stroke-width="1"/>
<text x="604.4" y="643.4" font-size="7.6" font-weight="bold" font-style="normal" text-anchor="middle" fill="#000" >0</text>
<line x1="621.7" y1="630.4" x2="621.7" y2="633.9" stroke="#000" stroke-width="1"/>
<text x="621.6999999999999" y="643.4" font-size="7.6" font-weight="bold" font-style="normal" text-anchor="middle" fill="#000" >1</text>
<line x1="639.0" y1="630.4" x2="639.0" y2="633.9" stroke="#000" stroke-width="1"/>
<text x="639.0" y="643.4" font-size="7.6" font-weight="bold" font-style="normal" text-anchor="middle" fill="#000" >2</text>
<text x="604.6" y="655.9" font-size="8.6" font-weight="bold" font-style="normal" text-anchor="middle" fill="#000" >LogFC</text>
<line x1="604.4" y1="526.0" x2="604.4" y2="630.4" stroke="#000" stroke-width="0.8"/>
<rect x="586.4" y="532.1" width="18.0" height="4.4" fill="#0000ff" stroke="#000" stroke-width="1.3"/>
<line x1="564.6" y1="534.3" x2="569.6" y2="534.3" stroke="#000" stroke-width="1"/>
<text x="564.0" y="537.0" font-size="7.8" font-weight="bold" font-style="normal" text-anchor="end" fill="#000" >CSRP1</text>
<rect x="589.3" y="542.1" width="15.1" height="4.4" fill="#0000ff" stroke="#000" stroke-width="1.3"/>
<line x1="564.6" y1="544.3" x2="569.6" y2="544.3" stroke="#000" stroke-width="1"/>
<text x="564.0" y="546.97" font-size="7.8" font-weight="bold" font-style="normal" text-anchor="end" fill="#000" >PTGFRN</text>
<rect x="592.6" y="552.0" width="11.8" height="4.4" fill="#0000ff" stroke="#000" stroke-width="1.3"/>
<line x1="564.6" y1="554.2" x2="569.6" y2="554.2" stroke="#000" stroke-width="1"/>
<text x="564.0" y="556.94" font-size="7.8" font-weight="bold" font-style="normal" text-anchor="end" fill="#000" >HBA1</text>
<rect x="593.2" y="562.0" width="11.2" height="4.4" fill="#0000ff" stroke="#000" stroke-width="1.3"/>
<line x1="564.6" y1="564.2" x2="569.6" y2="564.2" stroke="#000" stroke-width="1"/>
<text x="564.0" y="566.91" font-size="7.8" font-weight="bold" font-style="normal" text-anchor="end" fill="#000" >PRSS1</text>
<rect x="593.7" y="572.0" width="10.7" height="4.4" fill="#0000ff" stroke="#000" stroke-width="1.3"/>
<line x1="564.6" y1="574.2" x2="569.6" y2="574.2" stroke="#000" stroke-width="1"/>
<text x="564.0" y="576.88" font-size="7.8" font-weight="bold" font-style="normal" text-anchor="end" fill="#000" >ZFYVE19</text>
<rect x="604.4" y="582.0" width="9.5" height="4.4" fill="#ff0000" stroke="#000" stroke-width="1.3"/>
<line x1="564.6" y1="584.1" x2="569.6" y2="584.1" stroke="#000" stroke-width="1"/>
<text x="564.0" y="586.85" font-size="7.8" font-weight="bold" font-style="normal" text-anchor="end" fill="#000" >RPL30</text>
<rect x="604.4" y="591.9" width="10.0" height="4.4" fill="#ff0000" stroke="#000" stroke-width="1.3"/>
<line x1="564.6" y1="594.1" x2="569.6" y2="594.1" stroke="#000" stroke-width="1"/>
<text x="564.0" y="596.82" font-size="7.8" font-weight="bold" font-style="normal" text-anchor="end" fill="#000" >S100A7</text>
<rect x="604.4" y="601.9" width="10.7" height="4.4" fill="#ff0000" stroke="#000" stroke-width="1.3"/>
<line x1="564.6" y1="604.1" x2="569.6" y2="604.1" stroke="#000" stroke-width="1"/>
<text x="564.0" y="606.79" font-size="7.8" font-weight="bold" font-style="normal" text-anchor="end" fill="#000" >ANKRD22</text>
<rect x="604.4" y="611.9" width="11.8" height="4.4" fill="#ff0000" stroke="#000" stroke-width="1.3"/>
<line x1="564.6" y1="614.1" x2="569.6" y2="614.1" stroke="#000" stroke-width="1"/>
<text x="564.0" y="616.76" font-size="7.8" font-weight="bold" font-style="normal" text-anchor="end" fill="#000" >CLIC1</text>
<rect x="604.4" y="621.8" width="13.0" height="4.4" fill="#ff0000" stroke="#000" stroke-width="1.3"/>
<line x1="564.6" y1="624.0" x2="569.6" y2="624.0" stroke="#000" stroke-width="1"/>
<text x="564.0" y="626.73" font-size="7.8" font-weight="bold" font-style="normal" text-anchor="end" fill="#000" >TRIM25</text>
<text x="604.6" y="513.6" font-size="9.8" font-weight="bold" text-anchor="middle"><tspan font-style="italic">G. vag</tspan> vs <tspan font-style="italic">L. crisp</tspan></text>
<g clip-path="url(#cpS)">
<rect x="40.3" y="47.9" width="100.7" height="79.69999999999999" filter="url(#bfS)"/>
<g filter="url(#blur4)">
<ellipse cx="58.0" cy="78.0" rx="18.0" ry="22.0" transform="rotate(0 58.0 78.0)" fill="#5a5548" opacity="0.45"/>
<ellipse cx="118.0" cy="62.0" rx="16.0" ry="9.0" transform="rotate(0 118.0 62.0)" fill="#6a5e48" opacity="0.45"/>
<ellipse cx="92.0" cy="60.0" rx="14.0" ry="8.0" transform="rotate(0 92.0 60.0)" fill="#5a6070" opacity="0.3"/>
<ellipse cx="100.0" cy="108.0" rx="24.0" ry="14.0" transform="rotate(0 100.0 108.0)" fill="#6a8cc8" opacity="0.35"/>
<ellipse cx="138.0" cy="112.0" rx="6.0" ry="20.0" transform="rotate(0 138.0 112.0)" fill="#0e1a30" opacity="0.7"/>
</g>
<rect x="40.3" y="47.9" width="100.7" height="79.69999999999999" fill="url(#vigS)"/>
<path d="M131.4 127.6 L141 99.6 L141 127.6 Z" fill="#dfe9f7"/>
</g>
<rect x="95.6" y="80.5" width="20.2" height="15" fill="none" stroke="#111" stroke-width="1.5" stroke-dasharray="3,1.6"/>
<line x1="112" y1="80.2" x2="146.5" y2="22.6" stroke="#111" stroke-width="1.3" stroke-dasharray="4,2.6"/>
<line x1="112" y1="96" x2="146.5" y2="137" stroke="#111" stroke-width="1.3" stroke-dasharray="4,2.6"/>
<g clip-path="url(#cpZ)">
<rect x="146.6" y="22.8" width="150.20000000000002" height="114.2" filter="url(#bfZ)"/>
<g filter="url(#blur3)">
<path d="M145.0 63.0 L165.4 59.6 L185.7 70.9 L206.1 75.4 L212.9 94.7 L202.7 115.0 L190.3 138.8 L145.0 138.8 Z" fill="#4a68a4" opacity="0.75"/>
<ellipse cx="219.7" cy="40.4" rx="13.6" ry="9.1" transform="rotate(0 219.7 40.4)" fill="#4f6ca8" opacity="0.5"/>
<ellipse cx="280.8" cy="76.6" rx="13.6" ry="13.6" transform="rotate(0 280.8 76.6)" fill="#5a78b4" opacity="0.4"/>
<ellipse cx="271.7" cy="26.8" rx="9.1" ry="6.8" transform="rotate(0 271.7 26.8)" fill="#b8d0f2" opacity="0.6"/>
<ellipse cx="188.0" cy="44.9" rx="6.8" ry="5.7" transform="rotate(0 188.0 44.9)" fill="#e4eefc" opacity="0.85"/>
<ellipse cx="289.8" cy="60.7" rx="5.0" ry="5.0" transform="rotate(0 289.8 60.7)" fill="#eef6ff" opacity="0.85"/>
<ellipse cx="212.9" cy="65.3" rx="5.7" ry="4.5" transform="rotate(0 212.9 65.3)" fill="#d0e0f8" opacity="0.6"/>
<ellipse cx="167.6" cy="29.1" rx="11.3" ry="5.7" transform="rotate(0 167.6 29.1)" fill="#90acdc" opacity="0.4"/>
<ellipse cx="285.3" cy="128.6" rx="9.1" ry="6.8" transform="rotate(0 285.3 128.6)" fill="#5a78b4" opacity="0.4"/>
</g>
<g filter="url(#rimf)" fill="none">
<circle cx="238.9" cy="46.0" r="5.4" stroke="#22386a" stroke-width="1.3" opacity="0.55"/>
<circle cx="238.9" cy="46.0" r="4.5" stroke="#e6f6e8" stroke-width="0.8" opacity="0.75"/>
<circle cx="255.9" cy="43.8" r="5.9" stroke="#22386a" stroke-width="1.3" opacity="0.55"/>
<circle cx="255.9" cy="43.8" r="5.0" stroke="#e6f6e8" stroke-width="0.8" opacity="0.75"/>
<circle cx="251.4" cy="59.6" r="5.0" stroke="#22386a" stroke-width="1.3" opacity="0.55"/>
<circle cx="251.4" cy="59.6" r="4.1" stroke="#e6f6e8" stroke-width="0.8" opacity="0.75"/>
<circle cx="268.3" cy="61.9" r="5.4" stroke="#22386a" stroke-width="1.3" opacity="0.55"/>
<circle cx="268.3" cy="61.9" r="4.5" stroke="#e6f6e8" stroke-width="0.8" opacity="0.75"/>
<circle cx="217.4" cy="66.4" r="4.5" stroke="#22386a" stroke-width="1.3" opacity="0.55"/>
<circle cx="217.4" cy="66.4" r="3.6" stroke="#e6f6e8" stroke-width="0.8" opacity="0.75"/>
<circle cx="240.0" cy="70.9" r="5.0" stroke="#22386a" stroke-width="1.3" opacity="0.55"/>
<circle cx="240.0" cy="70.9" r="4.1" stroke="#e6f6e8" stroke-width="0.8" opacity="0.75"/>
<circle cx="271.7" cy="96.9" r="5.9" stroke="#22386a" stroke-width="1.3" opacity="0.55"/>
<circle cx="271.7" cy="96.9" r="5.0" stroke="#e6f6e8" stroke-width="0.8" opacity="0.75"/>
<circle cx="292.1" cy="92.4" r="5.0" stroke="#22386a" stroke-width="1.3" opacity="0.55"/>
<circle cx="292.1" cy="92.4" r="4.1" stroke="#e6f6e8" stroke-width="0.8" opacity="0.75"/>
<circle cx="221.9" cy="98.1" r="5.0" stroke="#22386a" stroke-width="1.3" opacity="0.55"/>
<circle cx="221.9" cy="98.1" r="4.1" stroke="#e6f6e8" stroke-width="0.8" opacity="0.75"/>
<circle cx="253.6" cy="94.7" r="5.4" stroke="#22386a" stroke-width="1.3" opacity="0.55"/>
<circle cx="253.6" cy="94.7" r="4.5" stroke="#e6f6e8" stroke-width="0.8" opacity="0.75"/>
<circle cx="246.8" cy="110.5" r="5.0" stroke="#22386a" stroke-width="1.3" opacity="0.55"/>
<circle cx="246.8" cy="110.5" r="4.1" stroke="#e6f6e8" stroke-width="0.8" opacity="0.75"/>
<circle cx="271.7" cy="115.0" r="5.0" stroke="#22386a" stroke-width="1.3" opacity="0.55"/>
<circle cx="271.7" cy="115.0" r="4.1" stroke="#e6f6e8" stroke-width="0.8" opacity="0.75"/>
<circle cx="285.3" cy="117.3" r="4.5" stroke="#22386a" stroke-width="1.3" opacity="0.55"/>
<circle cx="285.3" cy="117.3" r="3.6" stroke="#e6f6e8" stroke-width="0.8" opacity="0.75"/>
<circle cx="201.6" cy="126.4" r="4.5" stroke="#22386a" stroke-width="1.3" opacity="0.55"/>
<circle cx="201.6" cy="126.4" r="3.6" stroke="#e6f6e8" stroke-width="0.8" opacity="0.75"/>
<circle cx="212.9" cy="126.4" r="4.1" stroke="#22386a" stroke-width="1.3" opacity="0.55"/>
<circle cx="212.9" cy="126.4" r="3.2" stroke="#e6f6e8" stroke-width="0.8" opacity="0.75"/>
<circle cx="149.5" cy="44.9" r="4.1" stroke="#22386a" stroke-width="1.3" opacity="0.55"/>
<circle cx="149.5" cy="44.9" r="3.2" stroke="#e6f6e8" stroke-width="0.8" opacity="0.75"/>
<circle cx="151.8" cy="56.2" r="3.6" stroke="#22386a" stroke-width="1.3" opacity="0.55"/>
<circle cx="151.8" cy="56.2" r="2.7" stroke="#e6f6e8" stroke-width="0.8" opacity="0.75"/>
<circle cx="201.6" cy="29.1" r="4.5" stroke="#22386a" stroke-width="1.3" opacity="0.55"/>
<circle cx="201.6" cy="29.1" r="3.6" stroke="#e6f6e8" stroke-width="0.8" opacity="0.75"/>
<circle cx="167.6" cy="35.8" r="4.1" stroke="#22386a" stroke-width="1.3" opacity="0.55"/>
<circle cx="167.6" cy="35.8" r="3.2" stroke="#e6f6e8" stroke-width="0.8" opacity="0.75"/>
<circle cx="289.8" cy="33.6" r="4.1" stroke="#22386a" stroke-width="1.3" opacity="0.55"/>
<circle cx="289.8" cy="33.6" r="3.2" stroke="#e6f6e8" stroke-width="0.8" opacity="0.75"/>
<circle cx="231.0" cy="124.1" r="4.5" stroke="#22386a" stroke-width="1.3" opacity="0.55"/>
<circle cx="231.0" cy="124.1" r="3.6" stroke="#e6f6e8" stroke-width="0.8" opacity="0.75"/>
<path d="M165.4 74.3 L185.7 72.0 L201.6 81.1 L203.8 87.9 L197.0 94.7 L178.9 87.9 L167.6 87.9" stroke="#1e3464" stroke-width="0.9" opacity="0.7"/>
<path d="M149.5 94.7 L172.2 92.4 L183.5 106.0 L176.7 115.0 L158.6 117.3" stroke="#1e3464" stroke-width="0.9" opacity="0.7"/>
<path d="M172.2 42.6 L190.3 65.3 L206.1 56.2" stroke="#1e3464" stroke-width="0.9" opacity="0.7"/>
<path d="M258.1 76.6 L280.8 83.4 L294.4 72.0" stroke="#1e3464" stroke-width="0.9" opacity="0.7"/>
</g>
</g>
<rect x="146.6" y="22.8" width="150.20000000000002" height="114.2" fill="none" stroke="#222" stroke-width="1.5" stroke-dasharray="2,1.4"/>
<line x1="178.9" y1="117.3" x2="174.8" y2="96" stroke="#000" stroke-width="1.2" marker-end="url(#ahB)"/>
<line x1="186.9" y1="117.3" x2="199.8" y2="97.8" stroke="#000" stroke-width="1.2" marker-end="url(#ahB)"/>
<line x1="237.8" y1="126.8" x2="286.4" y2="126.8" stroke="#000" stroke-width="1.5"/>
<rect x="0" y="0" width="0" height="0"/>
<rect x="9.2" y="141.0" width="325.0" height="105.5" fill="#000"/>
<g clip-path="url(#cpG)">
<rect x="9.2" y="141.0" width="109.6" height="105.5" fill="#000"/>
<g transform="translate(0,0)">
<g filter="url(#blur2)">
<path d="M22.7 140.0 L48.9 140.0 L48.9 153.1 L35.8 153.1 L23.5 147.4 Z" fill="#268a26"/>
<path d="M47.3 140.0 L106.2 140.0 L107.8 180.9 L99.7 190.7 L86.6 194.0 L70.2 195.0 L62.0 189.1 L57.1 185.8 L53.0 177.6 L47.3 166.2 L47.3 153.1 Z" fill="#269226"/>
<path d="M106.2 140.0 L120.1 140.0 L120.1 189.1 L107.8 187.5 Z" fill="#1c661c"/>
<path d="M8.0 183.4 L43.2 183.9 L39.9 190.7 L51.4 196.5 L51.4 208.7 L57.1 213.6 L76.7 214.5 L78.4 218.6 L73.5 228.4 L62.0 238.2 L57.1 246.4 L22.7 246.4 L22.7 236.6 L8.0 238.2 Z" fill="#289628"/>
<path d="M76.7 195.0 L99.7 190.7 L120.1 189.1 L120.1 246.4 L57.1 246.4 L73.5 228.4 L78.4 218.6 Z" fill="#082408"/>
<ellipse cx="13.9" cy="151.8" rx="4.9" ry="10.8" transform="rotate(0 13.9 151.8)" fill="#2aa02a" opacity="1"/>
<ellipse cx="40.7" cy="160.0" rx="9.0" ry="6.2" transform="rotate(10 40.7 160.0)" fill="#36c436" opacity="1"/>
<ellipse cx="48.9" cy="225.1" rx="24.5" ry="18.0" transform="rotate(0 48.9 225.1)" fill="#32b032" opacity="0.9"/>
<ellipse cx="76.7" cy="172.7" rx="18.0" ry="14.7" transform="rotate(0 76.7 172.7)" fill="#2a9a2a" opacity="0.7"/>
<ellipse cx="93.1" cy="153.1" rx="13.1" ry="9.8" transform="rotate(0 93.1 153.1)" fill="#259025" opacity="0.6"/>
<ellipse cx="109.5" cy="210.4" rx="9.8" ry="4.9" transform="rotate(-20 109.5 210.4)" fill="#1a5a1a" opacity="0.5"/>
<ellipse cx="99.7" cy="221.8" rx="8.2" ry="3.3" transform="rotate(-30 99.7 221.8)" fill="#1a5a1a" opacity="0.5"/>
<ellipse cx="64.5" cy="164.5" rx="4.1" ry="3.6" transform="rotate(0 64.5 164.5)" fill="#000" opacity="0.9"/>
<ellipse cx="23.5" cy="218.2" rx="4.1" ry="6.2" transform="rotate(0 23.5 218.2)" fill="#000" opacity="0.9"/>
<ellipse cx="14.5" cy="242.3" rx="8.2" ry="4.6" transform="rotate(0 14.5 242.3)" fill="#000" opacity="0.9"/>
<ellipse cx="114.4" cy="195.6" rx="5.7" ry="4.1" transform="rotate(0 114.4 195.6)" fill="#000" opacity="0.9"/>
<ellipse cx="89.8" cy="244.7" rx="9.8" ry="2.5" transform="rotate(0 89.8 244.7)" fill="#000" opacity="0.9"/>
<ellipse cx="109.5" cy="231.7" rx="6.5" ry="4.1" transform="rotate(0 109.5 231.7)" fill="#000" opacity="0.9"/>
</g>
<path d="M78.4 216.9 L93.1 208.7 L106.2 202.2 L120.1 197.3" stroke="#228022" stroke-width="1" fill="none" opacity="0.35" filter="url(#blur1)"/>
<path d="M78.4 220.2 L96.4 216.9 L120.1 216.9" stroke="#228022" stroke-width="1" fill="none" opacity="0.35" filter="url(#blur1)"/>
<path d="M76.7 225.1 L93.1 225.1 L106.2 231.7 L120.1 238.2" stroke="#228022" stroke-width="1" fill="none" opacity="0.35" filter="url(#blur1)"/>
<path d="M89.8 197.3 L99.7 208.7 L109.5 216.9 L120.1 221.8" stroke="#228022" stroke-width="1" fill="none" opacity="0.35" filter="url(#blur1)"/>
<path d="M81.6 238.2 L99.7 238.2 L120.1 244.7" stroke="#228022" stroke-width="1" fill="none" opacity="0.35" filter="url(#blur1)"/>
<path d="M86.6 194.0 L93.1 205.5 L96.4 216.9 L99.7 231.7" stroke="#228022" stroke-width="1" fill="none" opacity="0.35" filter="url(#blur1)"/>
<rect x="9.2" y="141.0" width="109.6" height="105.5" fill="#000" filter="url(#gblot)" opacity="0.6"/>
<rect x="9.2" y="141.0" width="109.6" height="105.5" fill="#000" filter="url(#gdark)" opacity="0.7"/>
<g filter="url(#gbright)" opacity="0.6">
<path d="M22.7 140.0 L48.9 140.0 L48.9 153.1 L35.8 153.1 L23.5 147.4 Z" fill="#000"/>
<path d="M47.3 140.0 L106.2 140.0 L107.8 180.9 L99.7 190.7 L86.6 194.0 L70.2 195.0 L62.0 189.1 L57.1 185.8 L53.0 177.6 L47.3 166.2 L47.3 153.1 Z" fill="#000"/>
<path d="M8.0 183.4 L43.2 183.9 L39.9 190.7 L51.4 196.5 L51.4 208.7 L57.1 213.6 L76.7 214.5 L78.4 218.6 L73.5 228.4 L62.0 238.2 L57.1 246.4 L22.7 246.4 L22.7 236.6 L8.0 238.2 Z" fill="#000"/>
</g>
</g>
</g>
<g clip-path="url(#cpB)">
<rect x="118.8" y="141.0" width="107.2" height="105.5" fill="#020308"/>
<g transform="translate(0,0)" filter="url(#blur1)">
<ellipse cx="147.5" cy="147.4" rx="4.6" ry="4.6" transform="rotate(0 147.5 147.4)" fill="#1478f2" opacity="1"/>
<ellipse cx="166.3" cy="148.5" rx="5.7" ry="4.9" transform="rotate(20 166.3 148.5)" fill="#1478f2" opacity="1"/>
<ellipse cx="179.4" cy="146.5" rx="3.6" ry="4.6" transform="rotate(0 179.4 146.5)" fill="#1478f2" opacity="1"/>
<ellipse cx="192.5" cy="142.9" rx="3.3" ry="2.0" transform="rotate(0 192.5 142.9)" fill="#1478f2" opacity="1"/>
<ellipse cx="203.9" cy="149.0" rx="4.9" ry="5.7" transform="rotate(0 203.9 149.0)" fill="#1478f2" opacity="1"/>
<ellipse cx="192.5" cy="153.1" rx="3.6" ry="3.6" transform="rotate(0 192.5 153.1)" fill="#1478f2" opacity="1"/>
<ellipse cx="183.5" cy="158.0" rx="4.9" ry="4.6" transform="rotate(20 183.5 158.0)" fill="#1478f2" opacity="1"/>
<ellipse cx="213.8" cy="158.8" rx="4.1" ry="4.9" transform="rotate(0 213.8 158.8)" fill="#1478f2" opacity="1"/>
<ellipse cx="120.0" cy="155.6" rx="2.0" ry="4.1" transform="rotate(0 120.0 155.6)" fill="#1478f2" opacity="1"/>
<ellipse cx="152.4" cy="162.6" rx="4.6" ry="3.6" transform="rotate(30 152.4 162.6)" fill="#1478f2" opacity="1"/>
<ellipse cx="162.2" cy="165.4" rx="4.1" ry="3.3" transform="rotate(0 162.2 165.4)" fill="#1478f2" opacity="1"/>
<ellipse cx="165.5" cy="171.1" rx="3.6" ry="4.9" transform="rotate(-30 165.5 171.1)" fill="#1478f2" opacity="1"/>
<ellipse cx="170.4" cy="178.5" rx="4.1" ry="3.6" transform="rotate(0 170.4 178.5)" fill="#1478f2" opacity="1"/>
<ellipse cx="199.8" cy="167.8" rx="4.9" ry="3.3" transform="rotate(-20 199.8 167.8)" fill="#1478f2" opacity="1"/>
<ellipse cx="207.2" cy="171.9" rx="4.1" ry="4.1" transform="rotate(0 207.2 171.9)" fill="#1478f2" opacity="1"/>
<ellipse cx="198.2" cy="176.8" rx="4.9" ry="4.1" transform="rotate(30 198.2 176.8)" fill="#1478f2" opacity="1"/>
<ellipse cx="186.8" cy="180.1" rx="3.6" ry="4.6" transform="rotate(0 186.8 180.1)" fill="#1478f2" opacity="1"/>
<ellipse cx="193.3" cy="185.8" rx="3.6" ry="4.1" transform="rotate(0 193.3 185.8)" fill="#1478f2" opacity="1"/>
<ellipse cx="183.5" cy="189.9" rx="4.1" ry="3.6" transform="rotate(0 183.5 189.9)" fill="#1478f2" opacity="1"/>
<ellipse cx="214.6" cy="194.8" rx="4.1" ry="4.9" transform="rotate(0 214.6 194.8)" fill="#1478f2" opacity="1"/>
<ellipse cx="224.1" cy="170.3" rx="2.0" ry="4.1" transform="rotate(0 224.1 170.3)" fill="#1478f2" opacity="1"/>
<ellipse cx="130.3" cy="195.7" rx="4.9" ry="4.9" transform="rotate(0 130.3 195.7)" fill="#1478f2" opacity="1"/>
<ellipse cx="133.6" cy="200.6" rx="4.1" ry="4.1" transform="rotate(0 133.6 200.6)" fill="#1478f2" opacity="1"/>
<ellipse cx="151.6" cy="205.5" rx="4.6" ry="4.6" transform="rotate(0 151.6 205.5)" fill="#1478f2" opacity="1"/>
<ellipse cx="122.1" cy="210.4" rx="3.6" ry="5.7" transform="rotate(0 122.1 210.4)" fill="#1478f2" opacity="1"/>
<ellipse cx="123.7" cy="218.6" rx="3.6" ry="3.3" transform="rotate(0 123.7 218.6)" fill="#1478f2" opacity="1"/>
<ellipse cx="150.7" cy="217.8" rx="4.1" ry="4.1" transform="rotate(0 150.7 217.8)" fill="#1478f2" opacity="1"/>
<ellipse cx="165.5" cy="218.6" rx="5.7" ry="2.9" transform="rotate(0 165.5 218.6)" fill="#1478f2" opacity="1"/>
<ellipse cx="158.1" cy="225.9" rx="4.9" ry="5.2" transform="rotate(0 158.1 225.9)" fill="#1478f2" opacity="1"/>
<ellipse cx="170.4" cy="228.4" rx="4.9" ry="4.1" transform="rotate(0 170.4 228.4)" fill="#1478f2" opacity="1"/>
<ellipse cx="199.0" cy="221.0" rx="9.0" ry="6.5" transform="rotate(0 199.0 221.0)" fill="#1478f2" opacity="1"/>
<ellipse cx="204.8" cy="225.1" rx="4.1" ry="2.5" transform="rotate(0 204.8 225.1)" fill="#1478f2" opacity="1"/>
<ellipse cx="221.1" cy="224.3" rx="4.1" ry="6.5" transform="rotate(0 221.1 224.3)" fill="#1478f2" opacity="1"/>
<ellipse cx="222.8" cy="212.0" rx="4.1" ry="4.1" transform="rotate(0 222.8 212.0)" fill="#1478f2" opacity="1"/>
<ellipse cx="125.4" cy="228.4" rx="4.9" ry="3.3" transform="rotate(0 125.4 228.4)" fill="#1478f2" opacity="1"/>
<ellipse cx="180.2" cy="234.9" rx="3.6" ry="4.1" transform="rotate(0 180.2 234.9)" fill="#1478f2" opacity="1"/>
<ellipse cx="153.2" cy="239.0" rx="4.9" ry="4.1" transform="rotate(0 153.2 239.0)" fill="#1478f2" opacity="1"/>
<ellipse cx="149.1" cy="243.1" rx="4.1" ry="4.1" transform="rotate(0 149.1 243.1)" fill="#1478f2" opacity="1"/>
<ellipse cx="194.9" cy="246.4" rx="3.3" ry="1.6" transform="rotate(0 194.9 246.4)" fill="#1478f2" opacity="1"/>
<ellipse cx="136.0" cy="190.7" rx="2.0" ry="3.6" transform="rotate(0 136.0 190.7)" fill="#0a2a5a" opacity="1"/>
</g>
</g>
<g clip-path="url(#cpM)">
<rect x="226.0" y="141.0" width="108.19999999999999" height="105.5" fill="#000"/>
<g transform="translate(216.8,0)">
<g filter="url(#blur2)">
<path d="M22.7 140.0 L48.9 140.0 L48.9 153.1 L35.8 153.1 L23.5 147.4 Z" fill="#268a26"/>
<path d="M47.3 140.0 L106.2 140.0 L107.8 180.9 L99.7 190.7 L86.6 194.0 L70.2 195.0 L62.0 189.1 L57.1 185.8 L53.0 177.6 L47.3 166.2 L47.3 153.1 Z" fill="#269226"/>
<path d="M106.2 140.0 L120.1 140.0 L120.1 189.1 L107.8 187.5 Z" fill="#1c661c"/>
<path d="M8.0 183.4 L43.2 183.9 L39.9 190.7 L51.4 196.5 L51.4 208.7 L57.1 213.6 L76.7 214.5 L78.4 218.6 L73.5 228.4 L62.0 238.2 L57.1 246.4 L22.7 246.4 L22.7 236.6 L8.0 238.2 Z" fill="#289628"/>
<path d="M76.7 195.0 L99.7 190.7 L120.1 189.1 L120.1 246.4 L57.1 246.4 L73.5 228.4 L78.4 218.6 Z" fill="#082408"/>
<ellipse cx="13.9" cy="151.8" rx="4.9" ry="10.8" transform="rotate(0 13.9 151.8)" fill="#2aa02a" opacity="1"/>
<ellipse cx="40.7" cy="160.0" rx="9.0" ry="6.2" transform="rotate(10 40.7 160.0)" fill="#36c436" opacity="1"/>
<ellipse cx="48.9" cy="225.1" rx="24.5" ry="18.0" transform="rotate(0 48.9 225.1)" fill="#32b032" opacity="0.9"/>
<ellipse cx="76.7" cy="172.7" rx="18.0" ry="14.7" transform="rotate(0 76.7 172.7)" fill="#2a9a2a" opacity="0.7"/>
<ellipse cx="93.1" cy="153.1" rx="13.1" ry="9.8" transform="rotate(0 93.1 153.1)" fill="#259025" opacity="0.6"/>
<ellipse cx="109.5" cy="210.4" rx="9.8" ry="4.9" transform="rotate(-20 109.5 210.4)" fill="#1a5a1a" opacity="0.5"/>
<ellipse cx="99.7" cy="221.8" rx="8.2" ry="3.3" transform="rotate(-30 99.7 221.8)" fill="#1a5a1a" opacity="0.5"/>
<ellipse cx="64.5" cy="164.5" rx="4.1" ry="3.6" transform="rotate(0 64.5 164.5)" fill="#000" opacity="0.9"/>
<ellipse cx="23.5" cy="218.2" rx="4.1" ry="6.2" transform="rotate(0 23.5 218.2)" fill="#000" opacity="0.9"/>
<ellipse cx="14.5" cy="242.3" rx="8.2" ry="4.6" transform="rotate(0 14.5 242.3)" fill="#000" opacity="0.9"/>
<ellipse cx="114.4" cy="195.6" rx="5.7" ry="4.1" transform="rotate(0 114.4 195.6)" fill="#000" opacity="0.9"/>
<ellipse cx="89.8" cy="244.7" rx="9.8" ry="2.5" transform="rotate(0 89.8 244.7)" fill="#000" opacity="0.9"/>
<ellipse cx="109.5" cy="231.7" rx="6.5" ry="4.1" transform="rotate(0 109.5 231.7)" fill="#000" opacity="0.9"/>
</g>
<path d="M78.4 216.9 L93.1 208.7 L106.2 202.2 L120.1 197.3" stroke="#228022" stroke-width="1" fill="none" opacity="0.35" filter="url(#blur1)"/>
<path d="M78.4 220.2 L96.4 216.9 L120.1 216.9" stroke="#228022" stroke-width="1" fill="none" opacity="0.35" filter="url(#blur1)"/>
<path d="M76.7 225.1 L93.1 225.1 L106.2 231.7 L120.1 238.2" stroke="#228022" stroke-width="1" fill="none" opacity="0.35" filter="url(#blur1)"/>
<path d="M89.8 197.3 L99.7 208.7 L109.5 216.9 L120.1 221.8" stroke="#228022" stroke-width="1" fill="none" opacity="0.35" filter="url(#blur1)"/>
<path d="M81.6 238.2 L99.7 238.2 L120.1 244.7" stroke="#228022" stroke-width="1" fill="none" opacity="0.35" filter="url(#blur1)"/>
<path d="M86.6 194.0 L93.1 205.5 L96.4 216.9 L99.7 231.7" stroke="#228022" stroke-width="1" fill="none" opacity="0.35" filter="url(#blur1)"/>
<rect x="9.2" y="141.0" width="109.6" height="105.5" fill="#000" filter="url(#gblot)" opacity="0.6"/>
<rect x="9.2" y="141.0" width="109.6" height="105.5" fill="#000" filter="url(#gdark)" opacity="0.7"/>
<g filter="url(#gbright)" opacity="0.6">
<path d="M22.7 140.0 L48.9 140.0 L48.9 153.1 L35.8 153.1 L23.5 147.4 Z" fill="#000"/>
<path d="M47.3 140.0 L106.2 140.0 L107.8 180.9 L99.7 190.7 L86.6 194.0 L70.2 195.0 L62.0 189.1 L57.1 185.8 L53.0 177.6 L47.3 166.2 L47.3 153.1 Z" fill="#000"/>
<path d="M8.0 183.4 L43.2 183.9 L39.9 190.7 L51.4 196.5 L51.4 208.7 L57.1 213.6 L76.7 214.5 L78.4 218.6 L73.5 228.4 L62.0 238.2 L57.1 246.4 L22.7 246.4 L22.7 236.6 L8.0 238.2 Z" fill="#000"/>
</g>
</g>
<g transform="translate(107.2,0)" filter="url(#blur1)">
<ellipse cx="147.5" cy="147.4" rx="4.6" ry="4.6" transform="rotate(0 147.5 147.4)" fill="#2c8fe8" opacity="0.95"/>
<ellipse cx="166.3" cy="148.5" rx="5.7" ry="4.9" transform="rotate(20 166.3 148.5)" fill="#2c8fe8" opacity="0.95"/>
<ellipse cx="179.4" cy="146.5" rx="3.6" ry="4.6" transform="rotate(0 179.4 146.5)" fill="#2c8fe8" opacity="0.95"/>
<ellipse cx="192.5" cy="142.9" rx="3.3" ry="2.0" transform="rotate(0 192.5 142.9)" fill="#2c8fe8" opacity="0.95"/>
<ellipse cx="203.9" cy="149.0" rx="4.9" ry="5.7" transform="rotate(0 203.9 149.0)" fill="#2c8fe8" opacity="0.95"/>
<ellipse cx="192.5" cy="153.1" rx="3.6" ry="3.6" transform="rotate(0 192.5 153.1)" fill="#2c8fe8" opacity="0.95"/>
<ellipse cx="183.5" cy="158.0" rx="4.9" ry="4.6" transform="rotate(20 183.5 158.0)" fill="#2c8fe8" opacity="0.95"/>
<ellipse cx="213.8" cy="158.8" rx="4.1" ry="4.9" transform="rotate(0 213.8 158.8)" fill="#2c8fe8" opacity="0.95"/>
<ellipse cx="120.0" cy="155.6" rx="2.0" ry="4.1" transform="rotate(0 120.0 155.6)" fill="#2c8fe8" opacity="0.95"/>
<ellipse cx="152.4" cy="162.6" rx="4.6" ry="3.6" transform="rotate(30 152.4 162.6)" fill="#2c8fe8" opacity="0.95"/>
<ellipse cx="162.2" cy="165.4" rx="4.1" ry="3.3" transform="rotate(0 162.2 165.4)" fill="#2c8fe8" opacity="0.95"/>
<ellipse cx="165.5" cy="171.1" rx="3.6" ry="4.9" transform="rotate(-30 165.5 171.1)" fill="#2c8fe8" opacity="0.95"/>
<ellipse cx="170.4" cy="178.5" rx="4.1" ry="3.6" transform="rotate(0 170.4 178.5)" fill="#2c8fe8" opacity="0.95"/>
<ellipse cx="199.8" cy="167.8" rx="4.9" ry="3.3" transform="rotate(-20 199.8 167.8)" fill="#2c8fe8" opacity="0.95"/>
<ellipse cx="207.2" cy="171.9" rx="4.1" ry="4.1" transform="rotate(0 207.2 171.9)" fill="#2c8fe8" opacity="0.95"/>
<ellipse cx="198.2" cy="176.8" rx="4.9" ry="4.1" transform="rotate(30 198.2 176.8)" fill="#2c8fe8" opacity="0.95"/>
<ellipse cx="186.8" cy="180.1" rx="3.6" ry="4.6" transform="rotate(0 186.8 180.1)" fill="#2c8fe8" opacity="0.95"/>
<ellipse cx="193.3" cy="185.8" rx="3.6" ry="4.1" transform="rotate(0 193.3 185.8)" fill="#2c8fe8" opacity="0.95"/>
<ellipse cx="183.5" cy="189.9" rx="4.1" ry="3.6" transform="rotate(0 183.5 189.9)" fill="#2c8fe8" opacity="0.95"/>
<ellipse cx="214.6" cy="194.8" rx="4.1" ry="4.9" transform="rotate(0 214.6 194.8)" fill="#2c8fe8" opacity="0.95"/>
<ellipse cx="224.1" cy="170.3" rx="2.0" ry="4.1" transform="rotate(0 224.1 170.3)" fill="#2c8fe8" opacity="0.95"/>
<ellipse cx="130.3" cy="195.7" rx="4.9" ry="4.9" transform="rotate(0 130.3 195.7)" fill="#2c8fe8" opacity="0.95"/>
<ellipse cx="133.6" cy="200.6" rx="4.1" ry="4.1" transform="rotate(0 133.6 200.6)" fill="#2c8fe8" opacity="0.95"/>
<ellipse cx="151.6" cy="205.5" rx="4.6" ry="4.6" transform="rotate(0 151.6 205.5)" fill="#2c8fe8" opacity="0.95"/>
<ellipse cx="122.1" cy="210.4" rx="3.6" ry="5.7" transform="rotate(0 122.1 210.4)" fill="#2c8fe8" opacity="0.95"/>
<ellipse cx="123.7" cy="218.6" rx="3.6" ry="3.3" transform="rotate(0 123.7 218.6)" fill="#2c8fe8" opacity="0.95"/>
<ellipse cx="150.7" cy="217.8" rx="4.1" ry="4.1" transform="rotate(0 150.7 217.8)" fill="#2c8fe8" opacity="0.95"/>
<ellipse cx="165.5" cy="218.6" rx="5.7" ry="2.9" transform="rotate(0 165.5 218.6)" fill="#2c8fe8" opacity="0.95"/>
<ellipse cx="158.1" cy="225.9" rx="4.9" ry="5.2" transform="rotate(0 158.1 225.9)" fill="#2c8fe8" opacity="0.95"/>
<ellipse cx="170.4" cy="228.4" rx="4.9" ry="4.1" transform="rotate(0 170.4 228.4)" fill="#2c8fe8" opacity="0.95"/>
<ellipse cx="199.0" cy="221.0" rx="9.0" ry="6.5" transform="rotate(0 199.0 221.0)" fill="#2c8fe8" opacity="0.95"/>
<ellipse cx="204.8" cy="225.1" rx="4.1" ry="2.5" transform="rotate(0 204.8 225.1)" fill="#2c8fe8" opacity="0.95"/>
<ellipse cx="221.1" cy="224.3" rx="4.1" ry="6.5" transform="rotate(0 221.1 224.3)" fill="#2c8fe8" opacity="0.95"/>
<ellipse cx="222.8" cy="212.0" rx="4.1" ry="4.1" transform="rotate(0 222.8 212.0)" fill="#2c8fe8" opacity="0.95"/>
<ellipse cx="125.4" cy="228.4" rx="4.9" ry="3.3" transform="rotate(0 125.4 228.4)" fill="#2c8fe8" opacity="0.95"/>
<ellipse cx="180.2" cy="234.9" rx="3.6" ry="4.1" transform="rotate(0 180.2 234.9)" fill="#2c8fe8" opacity="0.95"/>
<ellipse cx="153.2" cy="239.0" rx="4.9" ry="4.1" transform="rotate(0 153.2 239.0)" fill="#2c8fe8" opacity="0.95"/>
<ellipse cx="149.1" cy="243.1" rx="4.1" ry="4.1" transform="rotate(0 149.1 243.1)" fill="#2c8fe8" opacity="0.95"/>
<ellipse cx="194.9" cy="246.4" rx="3.3" ry="1.6" transform="rotate(0 194.9 246.4)" fill="#2c8fe8" opacity="0.95"/>
<ellipse cx="136.0" cy="190.7" rx="2.0" ry="3.6" transform="rotate(0 136.0 190.7)" fill="#0a2a5a" opacity="0.95"/>
</g>
</g>
<line x1="126.18464560484531" y1="174.37551154035032" x2="139.2800785725978" y2="167.50040923228025" stroke="#fff" stroke-width="1.1" marker-end="url(#ahW)"/>
<line x1="143.37240137502047" y1="221.02799148796856" x2="135.67883450646588" y2="230.35848747749222" stroke="#fff" stroke-width="1.1" marker-end="url(#ahW)"/>
<line x1="235.6857593273778" y1="178.08197582764058" x2="248.82291119285338" y2="170.72517078297426" stroke="#fff" stroke-width="1.1" marker-end="url(#ahW)"/>
<line x1="292" y1="240.6" x2="330" y2="240.6" stroke="#fff" stroke-width="1.3"/>
<rect x="362.0" y="33.4" width="321.6" height="213.2" fill="#000"/>
<text x="412" y="28.2" font-size="10.5" font-weight="bold" font-style="normal" text-anchor="middle" fill="#000" >Control</text>
<text x="510.4" y="28.2" font-size="10.4" font-weight="bold" text-anchor="middle">+ <tspan font-style="italic">L. crisp</tspan></text>
<text x="615.2" y="28.2" font-size="10.4" font-weight="bold" text-anchor="middle">+ <tspan font-style="italic">G. vag</tspan></text>
<g clip-path="url(#cpb00)">
<rect x="362.0" y="33.4" width="107.39999999999998" height="106.1" fill="#00001a"/>
<g filter="url(#blur1)">
<ellipse cx="367.4" cy="45.1" rx="3.6" ry="3.3" transform="rotate(0 367.4 45.1)" fill="rgb(15,15,255)" opacity="1"/>
<ellipse cx="377.2" cy="46.7" rx="4.6" ry="2.9" transform="rotate(0 377.2 46.7)" fill="rgb(15,15,255)" opacity="1"/>
<ellipse cx="387.0" cy="41.0" rx="4.6" ry="2.9" transform="rotate(20 387.0 41.0)" fill="rgb(12,12,204)" opacity="1"/>
<ellipse cx="392.7" cy="36.1" rx="4.1" ry="2.0" transform="rotate(0 392.7 36.1)" fill="rgb(10,10,178)" opacity="1"/>
<ellipse cx="407.5" cy="41.0" rx="4.1" ry="3.3" transform="rotate(0 407.5 41.0)" fill="rgb(10,10,178)" opacity="1"/>
<ellipse cx="408.3" cy="49.2" rx="5.7" ry="4.1" transform="rotate(0 408.3 49.2)" fill="rgb(5,5,89)" opacity="1"/>
<ellipse cx="416.5" cy="35.3" rx="2.5" ry="1.6" transform="rotate(0 416.5 35.3)" fill="rgb(12,12,204)" opacity="1"/>
<ellipse cx="425.5" cy="43.5" rx="4.6" ry="4.9" transform="rotate(20 425.5 43.5)" fill="rgb(13,13,229)" opacity="1"/>
<ellipse cx="438.6" cy="41.8" rx="3.6" ry="3.3" transform="rotate(0 438.6 41.8)" fill="rgb(13,13,229)" opacity="1"/>
<ellipse cx="449.2" cy="45.9" rx="3.6" ry="3.3" transform="rotate(0 449.2 45.9)" fill="rgb(15,15,255)" opacity="1"/>
<ellipse cx="448.4" cy="36.1" rx="3.3" ry="2.5" transform="rotate(0 448.4 36.1)" fill="rgb(13,13,229)" opacity="1"/>
<ellipse cx="459.9" cy="49.2" rx="3.3" ry="4.1" transform="rotate(0 459.9 49.2)" fill="rgb(13,13,229)" opacity="1"/>
<ellipse cx="364.9" cy="59.0" rx="2.9" ry="4.9" transform="rotate(0 364.9 59.0)" fill="rgb(9,9,153)" opacity="1"/>
<ellipse cx="378.0" cy="63.1" rx="4.1" ry="2.9" transform="rotate(0 378.0 63.1)" fill="rgb(5,5,89)" opacity="1"/>
<ellipse cx="387.8" cy="57.4" rx="3.3" ry="4.9" transform="rotate(-30 387.8 57.4)" fill="rgb(10,10,178)" opacity="1"/>
<ellipse cx="398.5" cy="62.3" rx="2.9" ry="4.9" transform="rotate(0 398.5 62.3)" fill="rgb(12,12,204)" opacity="1"/>
<ellipse cx="369.0" cy="71.3" rx="4.9" ry="4.9" transform="rotate(0 369.0 71.3)" fill="rgb(15,15,255)" opacity="1"/>
<ellipse cx="374.7" cy="71.3" rx="3.3" ry="4.9" transform="rotate(0 374.7 71.3)" fill="rgb(15,15,255)" opacity="1"/>
<ellipse cx="406.7" cy="72.1" rx="4.1" ry="4.1" transform="rotate(0 406.7 72.1)" fill="rgb(13,13,229)" opacity="1"/>
<ellipse cx="418.1" cy="63.9" rx="5.7" ry="4.1" transform="rotate(0 418.1 63.9)" fill="rgb(12,12,204)" opacity="1"/>
<ellipse cx="427.1" cy="68.0" rx="4.1" ry="4.1" transform="rotate(0 427.1 68.0)" fill="rgb(13,13,229)" opacity="1"/>
<ellipse cx="435.3" cy="73.7" rx="4.9" ry="3.3" transform="rotate(0 435.3 73.7)" fill="rgb(12,12,204)" opacity="1"/>
<ellipse cx="441.0" cy="64.7" rx="5.7" ry="4.1" transform="rotate(0 441.0 64.7)" fill="rgb(12,12,204)" opacity="1"/>
<ellipse cx="452.5" cy="73.7" rx="4.6" ry="3.6" transform="rotate(0 452.5 73.7)" fill="rgb(15,15,255)" opacity="1"/>
<ellipse cx="454.9" cy="59.0" rx="3.6" ry="4.9" transform="rotate(0 454.9 59.0)" fill="rgb(7,7,127)" opacity="1"/>
<ellipse cx="463.1" cy="63.1" rx="2.5" ry="4.1" transform="rotate(0 463.1 63.1)" fill="rgb(6,6,102)" opacity="1"/>
<ellipse cx="373.9" cy="83.6" rx="3.6" ry="4.1" transform="rotate(0 373.9 83.6)" fill="rgb(15,15,255)" opacity="1"/>
<ellipse cx="391.9" cy="80.3" rx="2.9" ry="4.9" transform="rotate(20 391.9 80.3)" fill="rgb(15,15,255)" opacity="1"/>
<ellipse cx="379.6" cy="91.7" rx="4.1" ry="3.3" transform="rotate(0 379.6 91.7)" fill="rgb(15,15,255)" opacity="1"/>
<ellipse cx="391.1" cy="95.8" rx="4.1" ry="4.6" transform="rotate(0 391.1 95.8)" fill="rgb(15,15,255)" opacity="1"/>
<ellipse cx="414.0" cy="90.9" rx="4.9" ry="3.6" transform="rotate(0 414.0 90.9)" fill="rgb(15,15,255)" opacity="1"/>
<ellipse cx="421.4" cy="93.4" rx="3.6" ry="3.6" transform="rotate(0 421.4 93.4)" fill="rgb(13,13,229)" opacity="1"/>
<ellipse cx="399.3" cy="92.6" rx="3.3" ry="4.1" transform="rotate(0 399.3 92.6)" fill="rgb(6,6,102)" opacity="1"/>
<ellipse cx="422.2" cy="82.7" rx="3.3" ry="4.1" transform="rotate(0 422.2 82.7)" fill="rgb(5,5,89)" opacity="1"/>
<ellipse cx="444.3" cy="94.2" rx="5.7" ry="4.1" transform="rotate(-20 444.3 94.2)" fill="rgb(13,13,229)" opacity="1"/>
<ellipse cx="467.2" cy="96.7" rx="3.3" ry="4.9" transform="rotate(0 467.2 96.7)" fill="rgb(15,15,255)" opacity="1"/>
<ellipse cx="463.1" cy="86.8" rx="3.3" ry="2.5" transform="rotate(0 463.1 86.8)" fill="rgb(6,6,102)" opacity="1"/>
<ellipse cx="373.9" cy="104.8" rx="4.1" ry="2.9" transform="rotate(-30 373.9 104.8)" fill="rgb(13,13,229)" opacity="1"/>
<ellipse cx="382.1" cy="102.4" rx="3.3" ry="2.5" transform="rotate(0 382.1 102.4)" fill="rgb(6,6,102)" opacity="1"/>
<ellipse cx="392.7" cy="109.8" rx="3.6" ry="4.6" transform="rotate(0 392.7 109.8)" fill="rgb(15,15,255)" opacity="1"/>
<ellipse cx="400.1" cy="107.3" rx="2.9" ry="4.1" transform="rotate(0 400.1 107.3)" fill="rgb(15,15,255)" opacity="1"/>
<ellipse cx="412.4" cy="102.4" rx="4.1" ry="4.1" transform="rotate(0 412.4 102.4)" fill="rgb(15,15,255)" opacity="1"/>
<ellipse cx="421.4" cy="104.0" rx="3.6" ry="3.3" transform="rotate(0 421.4 104.0)" fill="rgb(13,13,229)" opacity="1"/>
<ellipse cx="412.4" cy="110.6" rx="5.7" ry="2.5" transform="rotate(10 412.4 110.6)" fill="rgb(15,15,255)" opacity="1"/>
<ellipse cx="430.4" cy="108.9" rx="4.9" ry="3.6" transform="rotate(0 430.4 108.9)" fill="rgb(13,13,229)" opacity="1"/>
<ellipse cx="448.4" cy="103.2" rx="4.1" ry="4.1" transform="rotate(0 448.4 103.2)" fill="rgb(7,7,127)" opacity="1"/>
<ellipse cx="443.5" cy="112.2" rx="3.3" ry="3.6" transform="rotate(0 443.5 112.2)" fill="rgb(6,6,102)" opacity="1"/>
<ellipse cx="364.9" cy="120.4" rx="2.9" ry="4.1" transform="rotate(0 364.9 120.4)" fill="rgb(15,15,255)" opacity="1"/>
<ellipse cx="378.0" cy="121.2" rx="4.9" ry="4.1" transform="rotate(0 378.0 121.2)" fill="rgb(7,7,127)" opacity="1"/>
<ellipse cx="388.6" cy="117.1" rx="3.6" ry="4.9" transform="rotate(0 388.6 117.1)" fill="rgb(15,15,255)" opacity="1"/>
<ellipse cx="400.1" cy="121.2" rx="3.3" ry="4.9" transform="rotate(-20 400.1 121.2)" fill="rgb(15,15,255)" opacity="1"/>
<ellipse cx="416.5" cy="119.6" rx="4.1" ry="4.6" transform="rotate(0 416.5 119.6)" fill="rgb(9,9,153)" opacity="1"/>
<ellipse cx="430.4" cy="121.2" rx="4.1" ry="3.6" transform="rotate(0 430.4 121.2)" fill="rgb(15,15,255)" opacity="1"/>
<ellipse cx="441.8" cy="128.6" rx="4.1" ry="4.1" transform="rotate(0 441.8 128.6)" fill="rgb(15,15,255)" opacity="1"/>
<ellipse cx="453.3" cy="126.1" rx="4.1" ry="3.6" transform="rotate(0 453.3 126.1)" fill="rgb(9,9,153)" opacity="1"/>
<ellipse cx="461.5" cy="117.1" rx="2.9" ry="4.9" transform="rotate(0 461.5 117.1)" fill="rgb(13,13,229)" opacity="1"/>
<ellipse cx="466.4" cy="120.4" rx="2.5" ry="4.1" transform="rotate(0 466.4 120.4)" fill="rgb(13,13,229)" opacity="1"/>
<ellipse cx="382.9" cy="131.0" rx="4.1" ry="3.3" transform="rotate(0 382.9 131.0)" fill="rgb(15,15,255)" opacity="1"/>
<ellipse cx="417.3" cy="133.5" rx="3.3" ry="4.1" transform="rotate(0 417.3 133.5)" fill="rgb(15,15,255)" opacity="1"/>
<ellipse cx="432.0" cy="136.8" rx="4.1" ry="3.3" transform="rotate(0 432.0 136.8)" fill="rgb(15,15,255)" opacity="1"/>
<ellipse cx="461.5" cy="133.5" rx="4.1" ry="3.3" transform="rotate(0 461.5 133.5)" fill="rgb(13,13,229)" opacity="1"/>
<ellipse cx="466.4" cy="130.2" rx="2.5" ry="2.5" transform="rotate(0 466.4 130.2)" fill="rgb(12,12,204)" opacity="1"/>
<ellipse cx="366.5" cy="133.5" rx="2.9" ry="2.9" transform="rotate(0 366.5 133.5)" fill="rgb(6,6,102)" opacity="1"/>
<ellipse cx="376.4" cy="138.4" rx="3.3" ry="2.0" transform="rotate(0 376.4 138.4)" fill="rgb(12,12,204)" opacity="1"/>
</g></g>
<g clip-path="url(#cpb10)">
<rect x="469.4" y="33.4" width="107.10000000000002" height="106.1" fill="#000008"/>
<g filter="url(#blur2)">
<ellipse cx="497.5" cy="58.2" rx="10.6" ry="6.5" transform="rotate(0 497.5 58.2)" fill="rgb(0,0,255)" opacity="1"/>
<ellipse cx="498.3" cy="47.6" rx="5.7" ry="5.7" transform="rotate(0 498.3 47.6)" fill="rgb(0,0,255)" opacity="1"/>
<ellipse cx="517.1" cy="36.9" rx="8.2" ry="4.9" transform="rotate(0 517.1 36.9)" fill="rgb(0,0,242)" opacity="1"/>
<ellipse cx="522.0" cy="50.0" rx="4.9" ry="6.5" transform="rotate(0 522.0 50.0)" fill="rgb(0,0,204)" opacity="1"/>
<ellipse cx="523.7" cy="64.7" rx="5.7" ry="6.5" transform="rotate(0 523.7 64.7)" fill="rgb(0,0,242)" opacity="1"/>
<ellipse cx="513.0" cy="68.8" rx="4.1" ry="3.6" transform="rotate(0 513.0 68.8)" fill="rgb(0,0,229)" opacity="1"/>
<ellipse cx="533.5" cy="59.8" rx="6.5" ry="4.1" transform="rotate(0 533.5 59.8)" fill="rgb(0,0,127)" opacity="1"/>
<ellipse cx="543.3" cy="45.9" rx="5.7" ry="4.9" transform="rotate(0 543.3 45.9)" fill="rgb(0,0,127)" opacity="1"/>
<ellipse cx="565.4" cy="45.9" rx="9.0" ry="8.2" transform="rotate(0 565.4 45.9)" fill="rgb(0,0,255)" opacity="1"/>
<ellipse cx="569.5" cy="36.9" rx="6.5" ry="3.3" transform="rotate(0 569.5 36.9)" fill="rgb(0,0,229)" opacity="1"/>
<ellipse cx="572.8" cy="64.7" rx="4.1" ry="5.7" transform="rotate(0 572.8 64.7)" fill="rgb(0,0,127)" opacity="1"/>
<ellipse cx="572.8" cy="81.1" rx="3.3" ry="3.3" transform="rotate(0 572.8 81.1)" fill="rgb(0,0,178)" opacity="1"/>
<ellipse cx="478.6" cy="74.6" rx="5.7" ry="5.7" transform="rotate(0 478.6 74.6)" fill="rgb(0,0,242)" opacity="1"/>
<ellipse cx="471.3" cy="41.8" rx="4.1" ry="6.5" transform="rotate(0 471.3 41.8)" fill="rgb(0,0,153)" opacity="1"/>
<ellipse cx="507.3" cy="87.7" rx="8.2" ry="8.2" transform="rotate(0 507.3 87.7)" fill="rgb(0,0,255)" opacity="1"/>
<ellipse cx="520.4" cy="81.1" rx="4.9" ry="4.1" transform="rotate(0 520.4 81.1)" fill="rgb(0,0,216)" opacity="1"/>
<ellipse cx="530.2" cy="90.9" rx="7.4" ry="6.5" transform="rotate(0 530.2 90.9)" fill="rgb(0,0,216)" opacity="1"/>
<ellipse cx="536.8" cy="86.0" rx="4.1" ry="6.5" transform="rotate(0 536.8 86.0)" fill="rgb(0,0,178)" opacity="1"/>
<ellipse cx="477.8" cy="94.2" rx="9.8" ry="6.5" transform="rotate(0 477.8 94.2)" fill="rgb(0,0,242)" opacity="1"/>
<ellipse cx="489.3" cy="92.6" rx="6.5" ry="5.7" transform="rotate(0 489.3 92.6)" fill="rgb(0,0,229)" opacity="1"/>
<ellipse cx="517.1" cy="100.8" rx="4.1" ry="4.1" transform="rotate(0 517.1 100.8)" fill="rgb(0,0,204)" opacity="1"/>
<ellipse cx="508.9" cy="108.9" rx="4.9" ry="7.4" transform="rotate(0 508.9 108.9)" fill="rgb(0,0,242)" opacity="1"/>
<ellipse cx="495.8" cy="118.8" rx="9.8" ry="9.8" transform="rotate(0 495.8 118.8)" fill="rgb(0,0,255)" opacity="1"/>
<ellipse cx="487.6" cy="113.8" rx="4.9" ry="4.1" transform="rotate(0 487.6 113.8)" fill="rgb(0,0,229)" opacity="1"/>
<ellipse cx="502.4" cy="130.2" rx="6.5" ry="6.5" transform="rotate(0 502.4 130.2)" fill="rgb(0,0,229)" opacity="1"/>
<ellipse cx="482.7" cy="136.8" rx="6.5" ry="3.3" transform="rotate(0 482.7 136.8)" fill="rgb(0,0,229)" opacity="1"/>
<ellipse cx="543.3" cy="113.8" rx="6.5" ry="4.1" transform="rotate(0 543.3 113.8)" fill="rgb(0,0,229)" opacity="1"/>
<ellipse cx="559.7" cy="90.9" rx="4.9" ry="5.7" transform="rotate(0 559.7 90.9)" fill="rgb(0,0,229)" opacity="1"/>
<ellipse cx="562.9" cy="100.8" rx="4.9" ry="4.1" transform="rotate(0 562.9 100.8)" fill="rgb(0,0,216)" opacity="1"/>
<ellipse cx="559.7" cy="112.2" rx="5.7" ry="4.9" transform="rotate(0 559.7 112.2)" fill="rgb(0,0,242)" opacity="1"/>
<ellipse cx="546.6" cy="123.7" rx="5.7" ry="5.7" transform="rotate(0 546.6 123.7)" fill="rgb(0,0,242)" opacity="1"/>
<ellipse cx="533.5" cy="123.7" rx="4.9" ry="3.3" transform="rotate(0 533.5 123.7)" fill="rgb(0,0,216)" opacity="1"/>
<ellipse cx="569.5" cy="125.3" rx="6.5" ry="6.5" transform="rotate(0 569.5 125.3)" fill="rgb(0,0,229)" opacity="1"/>
<ellipse cx="564.6" cy="133.5" rx="4.9" ry="4.1" transform="rotate(0 564.6 133.5)" fill="rgb(0,0,216)" opacity="1"/>
<ellipse cx="479.5" cy="120.4" rx="2.5" ry="1.6" transform="rotate(0 479.5 120.4)" fill="rgb(0,0,178)" opacity="1"/>
<ellipse cx="574.4" cy="107.3" rx="3.3" ry="4.9" transform="rotate(0 574.4 107.3)" fill="rgb(0,0,178)" opacity="1"/>
<ellipse cx="472.9" cy="87.7" rx="4.9" ry="6.5" transform="rotate(0 472.9 87.7)" fill="rgb(0,0,204)" opacity="1"/>
<ellipse cx="487.6" cy="104.0" rx="3.3" ry="3.3" transform="rotate(0 487.6 104.0)" fill="rgb(0,0,153)" opacity="1"/>
<ellipse cx="522.0" cy="136.8" rx="4.9" ry="3.3" transform="rotate(0 522.0 136.8)" fill="rgb(0,0,204)" opacity="1"/>
<ellipse cx="469.6" cy="130.2" rx="2.5" ry="6.5" transform="rotate(0 469.6 130.2)" fill="rgb(0,0,178)" opacity="1"/>
</g></g>
<g clip-path="url(#cpb20)">
<rect x="576.5" y="33.4" width="107.10000000000002" height="106.1" fill="#000010"/>
<g filter="url(#gvnet)" opacity="0.4">
<rect x="576.5" y="33.4" width="107.10000000000002" height="106.1" fill="#000"/>
</g>
<g filter="url(#blur3)">
<ellipse cx="586.5" cy="69.6" rx="13.1" ry="15.6" transform="rotate(0 586.5 69.6)" fill="#000004" opacity="0.95"/>
<ellipse cx="616.7" cy="123.7" rx="13.9" ry="18.0" transform="rotate(0 616.7 123.7)" fill="#000004" opacity="0.95"/>
<ellipse cx="666.7" cy="68.0" rx="18.0" ry="19.6" transform="rotate(0 666.7 68.0)" fill="#02021e" opacity="0.9"/>
</g>
<g filter="url(#blur2)">
<ellipse cx="643.8" cy="38.5" rx="9.0" ry="5.2" transform="rotate(0 643.8 38.5)" fill="rgb(0,0,242)" opacity="1"/>
<ellipse cx="656.8" cy="41.0" rx="8.2" ry="5.7" transform="rotate(0 656.8 41.0)" fill="rgb(0,0,255)" opacity="1"/>
<ellipse cx="651.9" cy="46.7" rx="6.5" ry="3.3" transform="rotate(0 651.9 46.7)" fill="rgb(0,0,216)" opacity="1"/>
<ellipse cx="664.2" cy="47.6" rx="4.9" ry="3.6" transform="rotate(0 664.2 47.6)" fill="rgb(0,0,242)" opacity="1"/>
<ellipse cx="676.5" cy="38.5" rx="6.5" ry="4.9" transform="rotate(0 676.5 38.5)" fill="rgb(0,0,153)" opacity="1"/>
<ellipse cx="637.2" cy="35.3" rx="4.9" ry="3.3" transform="rotate(0 637.2 35.3)" fill="rgb(0,0,216)" opacity="1"/>
<ellipse cx="648.7" cy="33.6" rx="6.5" ry="2.5" transform="rotate(0 648.7 33.6)" fill="rgb(0,0,229)" opacity="1"/>
</g>
<g filter="url(#blur1)">
<ellipse cx="581.5" cy="39.4" rx="3.3" ry="2.5" transform="rotate(0 581.5 39.4)" fill="#0808ff" opacity="1"/>
<ellipse cx="591.4" cy="39.4" rx="2.5" ry="2.5" transform="rotate(0 591.4 39.4)" fill="#0808ff" opacity="1"/>
<ellipse cx="601.2" cy="49.2" rx="2.5" ry="3.6" transform="rotate(0 601.2 49.2)" fill="#0808ff" opacity="1"/>
<ellipse cx="591.4" cy="52.5" rx="4.1" ry="2.5" transform="rotate(0 591.4 52.5)" fill="#0808ff" opacity="1"/>
<ellipse cx="609.4" cy="53.3" rx="2.5" ry="4.1" transform="rotate(0 609.4 53.3)" fill="#0808ff" opacity="1"/>
<ellipse cx="611.8" cy="36.9" rx="2.5" ry="3.3" transform="rotate(0 611.8 36.9)" fill="#0808ff" opacity="1"/>
<ellipse cx="622.5" cy="45.9" rx="3.3" ry="2.5" transform="rotate(0 622.5 45.9)" fill="#0808ff" opacity="1"/>
<ellipse cx="637.2" cy="50.8" rx="4.1" ry="2.9" transform="rotate(0 637.2 50.8)" fill="#0808ff" opacity="1"/>
<ellipse cx="625.7" cy="60.6" rx="2.0" ry="4.1" transform="rotate(0 625.7 60.6)" fill="#0808ff" opacity="1"/>
<ellipse cx="610.2" cy="60.6" rx="2.0" ry="3.3" transform="rotate(0 610.2 60.6)" fill="#0808ff" opacity="1"/>
<ellipse cx="604.5" cy="72.9" rx="2.5" ry="2.9" transform="rotate(0 604.5 72.9)" fill="#0808ff" opacity="1"/>
<ellipse cx="620.8" cy="77.8" rx="2.9" ry="2.5" transform="rotate(0 620.8 77.8)" fill="#0808ff" opacity="1"/>
<ellipse cx="615.1" cy="80.3" rx="2.5" ry="3.6" transform="rotate(0 615.1 80.3)" fill="#0808ff" opacity="1"/>
<ellipse cx="624.1" cy="84.4" rx="3.6" ry="2.5" transform="rotate(0 624.1 84.4)" fill="#0808ff" opacity="1"/>
<ellipse cx="597.1" cy="86.0" rx="2.5" ry="3.6" transform="rotate(0 597.1 86.0)" fill="#0808ff" opacity="1"/>
<ellipse cx="590.6" cy="88.5" rx="2.9" ry="3.3" transform="rotate(0 590.6 88.5)" fill="#0808ff" opacity="1"/>
<ellipse cx="641.3" cy="77.8" rx="2.0" ry="2.9" transform="rotate(0 641.3 77.8)" fill="#0808ff" opacity="1"/>
<ellipse cx="652.8" cy="81.9" rx="2.5" ry="2.0" transform="rotate(0 652.8 81.9)" fill="#0808ff" opacity="1"/>
<ellipse cx="602.0" cy="97.5" rx="3.6" ry="3.3" transform="rotate(0 602.0 97.5)" fill="#0808ff" opacity="1"/>
<ellipse cx="605.3" cy="104.0" rx="2.5" ry="2.0" transform="rotate(0 605.3 104.0)" fill="#0808ff" opacity="1"/>
<ellipse cx="629.0" cy="94.2" rx="2.0" ry="2.5" transform="rotate(0 629.0 94.2)" fill="#0808ff" opacity="1"/>
<ellipse cx="633.1" cy="99.1" rx="2.9" ry="2.5" transform="rotate(0 633.1 99.1)" fill="#0808ff" opacity="1"/>
<ellipse cx="643.8" cy="104.0" rx="2.0" ry="2.9" transform="rotate(0 643.8 104.0)" fill="#0808ff" opacity="1"/>
<ellipse cx="656.8" cy="96.7" rx="2.5" ry="2.9" transform="rotate(0 656.8 96.7)" fill="#0808ff" opacity="1"/>
<ellipse cx="579.9" cy="102.4" rx="1.6" ry="1.6" transform="rotate(0 579.9 102.4)" fill="#0808ff" opacity="1"/>
<ellipse cx="596.3" cy="112.2" rx="2.5" ry="3.3" transform="rotate(0 596.3 112.2)" fill="#0808ff" opacity="1"/>
<ellipse cx="602.0" cy="115.5" rx="2.0" ry="2.5" transform="rotate(0 602.0 115.5)" fill="#0808ff" opacity="1"/>
<ellipse cx="624.1" cy="110.6" rx="2.5" ry="2.0" transform="rotate(0 624.1 110.6)" fill="#0808ff" opacity="1"/>
<ellipse cx="633.9" cy="116.3" rx="2.0" ry="3.3" transform="rotate(0 633.9 116.3)" fill="#0808ff" opacity="1"/>
<ellipse cx="647.0" cy="118.8" rx="2.5" ry="2.5" transform="rotate(0 647.0 118.8)" fill="#0808ff" opacity="1"/>
<ellipse cx="651.9" cy="118.8" rx="2.0" ry="3.3" transform="rotate(0 651.9 118.8)" fill="#0808ff" opacity="1"/>
<ellipse cx="660.9" cy="107.3" rx="2.5" ry="2.0" transform="rotate(0 660.9 107.3)" fill="#0808ff" opacity="1"/>
<ellipse cx="584.8" cy="125.3" rx="4.1" ry="3.3" transform="rotate(0 584.8 125.3)" fill="#0808ff" opacity="1"/>
<ellipse cx="602.0" cy="124.5" rx="2.9" ry="3.6" transform="rotate(0 602.0 124.5)" fill="#0808ff" opacity="1"/>
<ellipse cx="591.4" cy="133.5" rx="2.5" ry="2.5" transform="rotate(0 591.4 133.5)" fill="#0808ff" opacity="1"/>
<ellipse cx="602.8" cy="135.1" rx="2.5" ry="2.0" transform="rotate(0 602.8 135.1)" fill="#0808ff" opacity="1"/>
<ellipse cx="643.8" cy="131.9" rx="2.5" ry="3.6" transform="rotate(0 643.8 131.9)" fill="#0808ff" opacity="1"/>
<ellipse cx="669.1" cy="129.4" rx="4.1" ry="2.5" transform="rotate(0 669.1 129.4)" fill="#0808ff" opacity="1"/>
<ellipse cx="676.5" cy="136.8" rx="2.0" ry="2.5" transform="rotate(0 676.5 136.8)" fill="#0808ff" opacity="1"/>
<ellipse cx="581.5" cy="131.9" rx="2.0" ry="2.0" transform="rotate(0 581.5 131.9)" fill="#0808ff" opacity="1"/>
<ellipse cx="578.3" cy="53.3" rx="1.3" ry="2.5" transform="rotate(0 578.3 53.3)" fill="#0808ff" opacity="1"/>
<ellipse cx="656.8" cy="59.8" rx="2.0" ry="2.0" transform="rotate(0 656.8 59.8)" fill="#0808ff" opacity="1"/>
<ellipse cx="647.0" cy="64.7" rx="1.6" ry="1.6" transform="rotate(0 647.0 64.7)" fill="#0808ff" opacity="1"/>
<ellipse cx="666.7" cy="120.4" rx="1.6" ry="2.0" transform="rotate(0 666.7 120.4)" fill="#0808ff" opacity="1"/>
<ellipse cx="679.8" cy="123.7" rx="1.6" ry="4.1" transform="rotate(0 679.8 123.7)" fill="#0808ff" opacity="1"/>
<ellipse cx="612.6" cy="123.7" rx="1.6" ry="1.6" transform="rotate(0 612.6 123.7)" fill="#0808ff" opacity="1"/>
<ellipse cx="620.8" cy="133.5" rx="1.6" ry="1.6" transform="rotate(0 620.8 133.5)" fill="#0808ff" opacity="1"/>
</g></g>
<line x1="640.5" y1="75.4" x2="620.0" y2="69.6" stroke="#fff" stroke-width="1.4" marker-end="url(#ahW)"/>
<line x1="645.4" y1="83.6" x2="635.9" y2="92.2" stroke="#fff" stroke-width="1.4" marker-end="url(#ahW)"/>
<line x1="653.2" y1="86.0" x2="650.6" y2="101.6" stroke="#fff" stroke-width="1.4" marker-end="url(#ahW)"/>
<g clip-path="url(#cpb01)">
<rect x="362.0" y="139.5" width="107.39999999999998" height="107.1" fill="#060600"/>
<g filter="url(#blur2)">
<path d="M374.4 195.6 L365.1 206.3 L357.1 201.4 L352.2 192.7 L360.0 187.1 L367.5 188.0 L374.6 194.5 Z" fill="#c8c800" opacity="0.4"/>
<path d="M394.2 149.3 L394.1 145.7 L388.1 141.6 L376.5 147.9 L385.1 161.6 L392.6 158.3 Z" fill="#c8c800" opacity="0.3"/>
<path d="M377.0 170.7 L384.8 162.5 L385.1 161.6 L376.5 147.9 L376.0 147.8 L375.0 148.4 L366.7 165.7 L369.5 169.0 L372.4 170.6 Z" fill="#c8c800" opacity="0.3"/>
<path d="M383.0 193.1 L377.2 192.9 L383.1 178.7 L394.1 180.3 L390.7 190.2 Z" fill="#c8c800" opacity="0.4"/>
<path d="M383.0 193.1 L377.2 192.9 L374.6 194.5 L374.4 195.6 L384.8 208.5 L392.7 202.3 Z" fill="#c8c800" opacity="0.3"/>
<path d="M387.9 229.2 L375.4 236.9 L374.9 245.9 L394.6 249.1 L390.9 231.1 Z" fill="#c8c800" opacity="0.4"/>
<path d="M397.1 160.6 L392.6 158.3 L394.2 149.3 L403.4 154.5 Z" fill="#c8c800" opacity="0.4"/>
<path d="M390.7 190.2 L394.1 180.3 L396.3 179.4 L405.7 189.3 L402.9 201.0 L398.8 200.5 Z" fill="#c8c800" opacity="0.15"/>
<path d="M400.1 215.8 L388.4 220.3 L387.9 229.2 L390.9 231.1 L403.3 232.8 L404.8 222.1 Z" fill="#c8c800" opacity="0.4"/>
<path d="M404.5 169.1 L397.1 160.6 L403.4 154.5 L410.0 152.1 L413.9 154.9 L411.6 165.0 L409.3 167.8 Z" fill="#c8c800" opacity="0.15"/>
<path d="M400.1 215.8 L406.0 205.0 L407.9 205.4 L419.5 218.4 L417.2 221.3 L404.8 222.1 Z" fill="#c8c800" opacity="0.15"/>
<path d="M420.5 134.3 L431.3 118.0 L434.9 144.2 L434.4 144.6 L425.9 147.1 Z" fill="#c8c800" opacity="0.3"/>
<path d="M420.5 134.3 L425.9 147.1 L423.2 151.1 L421.3 151.6 L409.4 135.5 Z" fill="#c8c800" opacity="0.3"/>
<path d="M409.3 167.8 L411.6 165.0 L425.9 167.6 L427.8 180.3 L427.5 180.5 L420.5 183.1 Z" fill="#c8c800" opacity="0.4"/>
<path d="M422.5 197.6 L430.2 208.9 L429.9 210.2 L412.9 203.0 L421.5 197.0 Z" fill="#c8c800" opacity="0.4"/>
<path d="M412.9 203.0 L407.9 205.4 L419.5 218.4 L420.4 218.2 L429.6 212.4 L429.9 210.2 Z" fill="#c8c800" opacity="0.3"/>
<path d="M432.3 233.5 L420.4 218.2 L419.5 218.4 L417.2 221.3 L416.0 227.2 L421.5 238.4 L423.2 238.0 Z" fill="#c8c800" opacity="0.4"/>
<path d="M430.3 246.7 L426.5 251.4 L419.2 250.3 L417.0 243.7 L421.5 238.4 L423.2 238.0 Z" fill="#c8c800" opacity="0.15"/>
<path d="M434.9 144.2 L444.3 143.8 L445.4 158.0 L438.6 160.0 L434.4 144.6 Z" fill="#c8c800" opacity="0.4"/>
<path d="M444.4 195.2 L443.9 198.1 L440.9 199.0 L432.1 194.9 L427.5 180.5 L427.8 180.3 L440.7 179.3 L443.0 181.1 Z" fill="#c8c800" opacity="0.15"/>
<path d="M422.5 197.6 L432.1 194.9 L440.9 199.0 L430.2 208.9 Z" fill="#c8c800" opacity="0.3"/>
<path d="M430.2 208.9 L440.9 199.0 L443.9 198.1 L447.7 202.0 L443.2 218.6 L440.6 220.9 L429.6 212.4 L429.9 210.2 Z" fill="#c8c800" opacity="0.3"/>
<path d="M432.3 233.5 L420.4 218.2 L429.6 212.4 L440.6 220.9 L440.6 228.7 L434.2 233.5 Z" fill="#c8c800" opacity="0.3"/>
<path d="M456.0 145.2 L445.4 143.0 L447.9 117.9 L460.9 139.5 Z" fill="#c8c800" opacity="0.15"/>
<path d="M443.0 181.1 L440.7 179.3 L440.8 177.1 L451.4 161.0 L455.6 161.1 L457.3 178.4 Z" fill="#c8c800" opacity="0.4"/>
<path d="M444.4 195.2 L458.8 190.0 L459.9 179.6 L457.3 178.4 L443.0 181.1 Z" fill="#c8c800" opacity="0.4"/>
<path d="M447.7 202.0 L443.2 218.6 L455.0 217.5 L454.0 203.9 Z" fill="#c8c800" opacity="0.3"/>
<path d="M455.0 217.5 L443.2 218.6 L440.6 220.9 L440.6 228.7 L451.6 233.9 L455.7 231.6 L457.0 218.9 Z" fill="#c8c800" opacity="0.4"/>
<path d="M434.2 233.5 L440.6 228.7 L451.6 233.9 L452.3 247.1 L451.9 247.9 L441.4 250.5 L437.4 245.2 Z" fill="#c8c800" opacity="0.4"/>
<path d="M459.9 179.6 L469.3 179.0 L471.3 177.5 L472.3 173.4 L458.9 158.7 L455.6 161.1 L457.3 178.4 Z" fill="#c8c800" opacity="0.4"/>
<path d="M458.8 190.0 L463.5 198.2 L470.1 197.4 L471.2 196.0 L469.3 179.0 L459.9 179.6 Z" fill="#c8c800" opacity="0.3"/>
<path d="M470.1 197.4 L474.0 207.3 L467.8 215.8 L457.7 203.2 L463.5 198.2 Z" fill="#c8c800" opacity="0.4"/>
<path d="M465.5 232.1 L455.7 231.6 L451.6 233.9 L452.3 247.1 L466.6 243.9 L469.4 239.7 L469.0 237.0 Z" fill="#c8c800" opacity="0.4"/>
</g>
<rect x="362.0" y="139.5" width="107.39999999999998" height="107.1" fill="#000" filter="url(#ytex)" opacity="0.4"/>
<path d="M475.5 169.1 L474.6 163.9 L472.8 158.9 L471.5 153.8M511.4 136.9 L506.1 138.2 L501.9 142.2 L496.1 142.5 L491.4 145.2 L486.7 147.9 L481.9 150.6 L476.0 150.5 L471.5 153.8M358.7 154.2 L361.7 159.5 L364.6 164.8M469.4 239.7 L466.6 243.9M441.4 250.5 L446.5 248.3 L451.9 247.9M451.9 247.9 L452.3 247.1M475.5 169.1 L472.3 173.4M400.1 249.6 L395.1 249.4M440.8 177.1 L440.7 179.3M445.4 158.0 L444.5 150.9 L444.3 143.8M455.7 231.6 L451.6 233.9M457.0 218.9 L462.5 218.3 L467.7 216.4M457.7 203.2 L454.0 203.9M443.2 218.6 L444.8 213.1 L445.6 207.4 L447.7 202.0M429.6 212.4 L425.0 215.3 L420.4 218.2M440.9 199.0 L443.9 198.1M421.5 238.4 L419.3 232.6 L416.0 227.2M423.2 238.0 L427.9 236.0 L432.3 233.5M430.3 246.7 L437.4 245.2M416.0 227.2 L417.2 221.3M441.4 250.5 L437.4 245.2M358.7 154.2 L359.7 149.2M375.0 148.4 L369.9 148.0 L364.8 148.8 L359.7 149.2M469.0 237.0 L465.5 232.1M376.5 147.9 L376.0 147.8M471.2 196.0 L470.1 197.4M471.3 177.5 L469.3 179.0M411.0 187.0 L419.6 184.4M420.5 183.1 L419.6 184.4M420.5 183.1 L416.0 178.5 L412.1 173.6 L409.3 167.8M411.6 165.0 L409.3 167.8M397.1 160.6 L401.3 164.4 L404.5 169.1M467.7 137.0 L465.2 138.8M407.9 205.4 L406.0 205.0M406.0 205.0 L402.9 201.0M367.5 188.0 L374.6 194.5M365.1 206.3 L370.1 201.3 L374.4 195.6M374.6 194.5 L374.4 195.6M457.3 178.4 L449.9 178.7 L443.0 181.1M458.8 190.0 L453.6 190.7 L449.6 194.6 L444.4 195.2M443.0 181.1 L444.0 188.1 L444.4 195.2M463.5 198.2 L458.8 190.0M365.2 208.2 L369.8 210.9 L374.3 214.0 L379.7 215.2M374.9 245.9 L375.4 236.9M398.8 200.5 L395.8 194.6 L390.7 190.2M402.9 201.0 L398.8 200.5M384.8 208.5 L389.4 206.2 L392.7 202.3M377.2 192.9 L383.0 193.1M390.9 231.1 L397.2 231.7 L403.3 232.8M375.4 236.9 L381.6 233.0 L387.9 229.2M406.0 205.0 L403.4 210.6 L400.1 215.8" stroke="#a0a000" stroke-width="3.6" fill="none" filter="url(#blur2)" opacity="0.33" stroke-linejoin="round"/>
<path d="M475.5 169.1 L474.6 163.9 L472.8 158.9 L471.5 153.8M511.4 136.9 L506.1 138.2 L501.9 142.2 L496.1 142.5 L491.4 145.2 L486.7 147.9 L481.9 150.6 L476.0 150.5 L471.5 153.8M358.7 154.2 L361.7 159.5 L364.6 164.8M469.4 239.7 L466.6 243.9M441.4 250.5 L446.5 248.3 L451.9 247.9M451.9 247.9 L452.3 247.1M475.5 169.1 L472.3 173.4M400.1 249.6 L395.1 249.4M440.8 177.1 L440.7 179.3M445.4 158.0 L444.5 150.9 L444.3 143.8M455.7 231.6 L451.6 233.9M457.0 218.9 L462.5 218.3 L467.7 216.4M457.7 203.2 L454.0 203.9M443.2 218.6 L444.8 213.1 L445.6 207.4 L447.7 202.0M429.6 212.4 L425.0 215.3 L420.4 218.2M440.9 199.0 L443.9 198.1M421.5 238.4 L419.3 232.6 L416.0 227.2M423.2 238.0 L427.9 236.0 L432.3 233.5M430.3 246.7 L437.4 245.2M416.0 227.2 L417.2 221.3M441.4 250.5 L437.4 245.2M358.7 154.2 L359.7 149.2M375.0 148.4 L369.9 148.0 L364.8 148.8 L359.7 149.2M469.0 237.0 L465.5 232.1M376.5 147.9 L376.0 147.8M471.2 196.0 L470.1 197.4M471.3 177.5 L469.3 179.0M411.0 187.0 L419.6 184.4M420.5 183.1 L419.6 184.4M420.5 183.1 L416.0 178.5 L412.1 173.6 L409.3 167.8M411.6 165.0 L409.3 167.8M397.1 160.6 L401.3 164.4 L404.5 169.1M467.7 137.0 L465.2 138.8M407.9 205.4 L406.0 205.0M406.0 205.0 L402.9 201.0M367.5 188.0 L374.6 194.5M365.1 206.3 L370.1 201.3 L374.4 195.6M374.6 194.5 L374.4 195.6M457.3 178.4 L449.9 178.7 L443.0 181.1M458.8 190.0 L453.6 190.7 L449.6 194.6 L444.4 195.2M443.0 181.1 L444.0 188.1 L444.4 195.2M463.5 198.2 L458.8 190.0M365.2 208.2 L369.8 210.9 L374.3 214.0 L379.7 215.2M374.9 245.9 L375.4 236.9M398.8 200.5 L395.8 194.6 L390.7 190.2M402.9 201.0 L398.8 200.5M384.8 208.5 L389.4 206.2 L392.7 202.3M377.2 192.9 L383.0 193.1M390.9 231.1 L397.2 231.7 L403.3 232.8M375.4 236.9 L381.6 233.0 L387.9 229.2M406.0 205.0 L403.4 210.6 L400.1 215.8" stroke="#f4f400" stroke-width="1.4" fill="none" filter="url(#blur1)" opacity="0.55" stroke-linejoin="round"/>
<path d="M366.7 165.7 L369.5 169.0M484.7 309.5 L482.5 304.6 L478.7 300.5 L476.9 295.4 L473.7 291.0 L471.2 286.2 L468.9 281.4 L467.0 276.3 L463.5 272.1 L461.4 267.2 L458.3 262.7 L457.9 256.9 L454.5 252.5 L451.9 247.9M466.6 243.9 L459.2 244.4 L452.3 247.1M471.3 177.5 L476.4 179.7 L482.1 180.7 L486.7 184.0 L491.7 186.4 L496.7 188.9 L502.2 190.3M366.7 249.8 L374.7 246.3M417.0 243.7 L419.2 250.3M417.0 243.7 L407.4 242.1M407.4 242.1 L404.2 246.3 L400.1 249.6M383.9 272.3 L386.3 267.8 L388.1 263.0 L389.9 258.2 L393.8 254.5 L395.1 249.4M374.7 246.3 L374.9 245.9M374.9 245.9 L381.3 248.1 L387.9 248.9 L394.6 249.1M427.8 180.3 L425.7 174.1 L425.9 167.6M447.9 22.1 L449.6 27.0 L450.1 32.0 L449.9 37.2 L450.2 42.3 L453.5 46.9 L453.6 52.0 L455.1 56.9 L453.8 62.2 L455.2 67.2 L455.7 72.2 L456.3 77.2 L459.1 81.9 L459.2 87.0 L459.8 92.0 L460.8 97.0 L461.1 102.1 L461.7 107.1 L464.1 111.9 L465.3 116.8 L464.8 122.0 L466.6 126.9 L466.0 132.1 L467.7 137.0M440.6 220.9 L440.6 228.7M440.6 220.9 L443.2 218.6M455.7 231.6 L455.5 225.1 L457.0 218.9M443.2 218.6 L449.1 218.2 L455.0 217.5M359.9 233.8 L358.0 239.9 L355.4 245.8M358.0 179.3 L360.0 187.1M429.9 210.2 L424.7 206.6 L418.2 206.4 L412.9 203.0M430.2 208.9 L426.2 203.4 L422.5 197.6M412.9 203.0 L416.7 199.3 L421.5 197.0M421.5 197.0 L422.5 197.6M429.6 212.4 L429.9 210.2M440.6 220.9 L435.0 216.8 L429.6 212.4M440.9 199.0 L432.1 194.9M432.1 194.9 L427.6 197.3 L422.5 197.6M417.0 243.7 L421.5 238.4M403.8 233.3 L410.2 230.8 L416.0 227.2M420.4 218.2 L425.0 222.9 L427.6 229.0 L432.3 233.5M426.5 251.4 L430.3 246.7M451.6 233.9 L451.5 240.5 L452.3 247.1M357.1 144.9 L359.7 149.2M385.1 161.6 L392.6 158.3M394.1 145.7 L394.2 149.3M392.6 158.3 L394.2 149.3M392.6 158.3 L397.1 160.6M421.3 151.6 L419.0 147.0 L416.2 142.9 L411.8 140.0 L409.4 135.5M425.9 167.6 L418.6 167.0 L411.6 165.0M413.9 154.9 L421.3 151.6M407.8 135.3 L404.4 143.0M492.8 225.8 L488.4 228.9 L483.7 231.3 L478.2 231.8 L473.2 233.7 L469.0 237.0M360.0 187.1 L367.5 188.0M367.5 188.0 L370.2 182.5 L370.5 176.3 L372.4 170.6M385.1 161.6 L384.8 162.5M474.0 207.3 L472.6 202.2 L470.1 197.4M457.7 203.2 L463.5 198.2M463.5 198.2 L470.1 197.4M411.0 187.0 L409.9 180.7 L407.2 174.9 L404.4 169.2M404.4 169.2 L404.5 169.1M427.5 180.5 L428.8 185.4 L430.4 190.1 L432.1 194.9M427.5 180.5 L420.5 183.1M421.5 197.0 L421.0 190.6 L419.6 184.4M384.8 162.5 L389.2 166.9 L393.1 171.9 L397.8 176.1M397.8 176.1 L404.4 169.2M376.0 147.8 L372.9 142.9 L371.2 137.3M465.2 138.8 L468.5 143.3 L468.3 149.2 L471.4 153.8M471.4 153.8 L466.1 156.1 L460.3 156.7M397.8 176.1 L396.3 179.4M357.1 201.4 L365.1 206.3M459.9 179.6 L458.4 184.7 L458.8 190.0M443.9 198.1 L444.4 195.2M367.4 222.7 L369.3 224.3M374.4 195.6 L378.0 199.8 L381.5 204.1 L384.8 208.5M390.9 231.1 L387.9 229.2M403.8 233.3 L403.3 232.8" stroke="#a0a000" stroke-width="3.6" fill="none" filter="url(#blur2)" opacity="0.48" stroke-linejoin="round"/>
<path d="M366.7 165.7 L369.5 169.0M484.7 309.5 L482.5 304.6 L478.7 300.5 L476.9 295.4 L473.7 291.0 L471.2 286.2 L468.9 281.4 L467.0 276.3 L463.5 272.1 L461.4 267.2 L458.3 262.7 L457.9 256.9 L454.5 252.5 L451.9 247.9M466.6 243.9 L459.2 244.4 L452.3 247.1M471.3 177.5 L476.4 179.7 L482.1 180.7 L486.7 184.0 L491.7 186.4 L496.7 188.9 L502.2 190.3M366.7 249.8 L374.7 246.3M417.0 243.7 L419.2 250.3M417.0 243.7 L407.4 242.1M407.4 242.1 L404.2 246.3 L400.1 249.6M383.9 272.3 L386.3 267.8 L388.1 263.0 L389.9 258.2 L393.8 254.5 L395.1 249.4M374.7 246.3 L374.9 245.9M374.9 245.9 L381.3 248.1 L387.9 248.9 L394.6 249.1M427.8 180.3 L425.7 174.1 L425.9 167.6M447.9 22.1 L449.6 27.0 L450.1 32.0 L449.9 37.2 L450.2 42.3 L453.5 46.9 L453.6 52.0 L455.1 56.9 L453.8 62.2 L455.2 67.2 L455.7 72.2 L456.3 77.2 L459.1 81.9 L459.2 87.0 L459.8 92.0 L460.8 97.0 L461.1 102.1 L461.7 107.1 L464.1 111.9 L465.3 116.8 L464.8 122.0 L466.6 126.9 L466.0 132.1 L467.7 137.0M440.6 220.9 L440.6 228.7M440.6 220.9 L443.2 218.6M455.7 231.6 L455.5 225.1 L457.0 218.9M443.2 218.6 L449.1 218.2 L455.0 217.5M359.9 233.8 L358.0 239.9 L355.4 245.8M358.0 179.3 L360.0 187.1M429.9 210.2 L424.7 206.6 L418.2 206.4 L412.9 203.0M430.2 208.9 L426.2 203.4 L422.5 197.6M412.9 203.0 L416.7 199.3 L421.5 197.0M421.5 197.0 L422.5 197.6M429.6 212.4 L429.9 210.2M440.6 220.9 L435.0 216.8 L429.6 212.4M440.9 199.0 L432.1 194.9M432.1 194.9 L427.6 197.3 L422.5 197.6M417.0 243.7 L421.5 238.4M403.8 233.3 L410.2 230.8 L416.0 227.2M420.4 218.2 L425.0 222.9 L427.6 229.0 L432.3 233.5M426.5 251.4 L430.3 246.7M451.6 233.9 L451.5 240.5 L452.3 247.1M357.1 144.9 L359.7 149.2M385.1 161.6 L392.6 158.3M394.1 145.7 L394.2 149.3M392.6 158.3 L394.2 149.3M392.6 158.3 L397.1 160.6M421.3 151.6 L419.0 147.0 L416.2 142.9 L411.8 140.0 L409.4 135.5M425.9 167.6 L418.6 167.0 L411.6 165.0M413.9 154.9 L421.3 151.6M407.8 135.3 L404.4 143.0M492.8 225.8 L488.4 228.9 L483.7 231.3 L478.2 231.8 L473.2 233.7 L469.0 237.0M360.0 187.1 L367.5 188.0M367.5 188.0 L370.2 182.5 L370.5 176.3 L372.4 170.6M385.1 161.6 L384.8 162.5M474.0 207.3 L472.6 202.2 L470.1 197.4M457.7 203.2 L463.5 198.2M463.5 198.2 L470.1 197.4M411.0 187.0 L409.9 180.7 L407.2 174.9 L404.4 169.2M404.4 169.2 L404.5 169.1M427.5 180.5 L428.8 185.4 L430.4 190.1 L432.1 194.9M427.5 180.5 L420.5 183.1M421.5 197.0 L421.0 190.6 L419.6 184.4M384.8 162.5 L389.2 166.9 L393.1 171.9 L397.8 176.1M397.8 176.1 L404.4 169.2M376.0 147.8 L372.9 142.9 L371.2 137.3M465.2 138.8 L468.5 143.3 L468.3 149.2 L471.4 153.8M471.4 153.8 L466.1 156.1 L460.3 156.7M397.8 176.1 L396.3 179.4M357.1 201.4 L365.1 206.3M459.9 179.6 L458.4 184.7 L458.8 190.0M443.9 198.1 L444.4 195.2M367.4 222.7 L369.3 224.3M374.4 195.6 L378.0 199.8 L381.5 204.1 L384.8 208.5M390.9 231.1 L387.9 229.2M403.8 233.3 L403.3 232.8" stroke="#f4f400" stroke-width="1.4" fill="none" filter="url(#blur1)" opacity="0.8" stroke-linejoin="round"/>
<path d="M366.7 165.7 L364.6 164.8M369.5 169.0 L366.6 173.4 L361.4 175.4 L358.0 179.3M364.6 164.8 L358.1 166.1 L352.1 169.0 L345.7 170.6M484.7 309.5 L484.3 304.2 L481.6 299.5 L481.7 294.0 L479.2 289.3 L476.7 284.5 L477.1 279.0 L474.2 274.4 L473.7 269.1 L471.6 264.2 L471.6 258.8 L470.2 253.7 L467.3 249.1 L466.6 243.9M472.3 173.4 L471.3 177.5M383.9 272.3 L382.9 266.8 L379.6 262.1 L379.5 256.3 L376.5 251.5 L374.7 246.3M394.6 249.1 L395.1 249.4M440.8 177.1 L439.1 172.1 L438.2 166.8 L436.1 162.0M436.1 162.0 L430.0 161.2M427.8 180.3 L434.3 180.7 L440.7 179.3M425.9 167.6 L430.0 161.2M511.4 136.9 L505.9 137.1 L500.5 136.5 L495.0 135.7 L489.5 136.4 L484.1 136.6 L478.6 137.7 L473.2 137.5 L467.7 137.0M438.6 160.0 L437.1 154.9 L436.3 149.6 L434.4 144.6M438.6 160.0 L445.4 158.0M444.3 143.8 L434.9 144.2M434.4 144.6 L434.9 144.2M440.8 177.1 L443.5 171.2 L447.4 166.1 L451.4 161.0M436.1 162.0 L438.6 160.0M451.4 161.0 L445.4 158.0M440.6 228.7 L446.4 230.7 L451.6 233.9M457.0 218.9 L455.0 217.5M359.9 233.8 L354.2 228.9M352.2 192.7 L360.0 187.1M455.0 217.5 L454.9 210.7 L454.0 203.9M467.8 215.8 L467.7 216.4M467.8 215.8 L465.0 211.2 L461.7 207.0 L457.7 203.2M454.0 203.9 L447.7 202.0M429.9 210.2 L430.2 208.9M407.9 205.4 L411.2 210.3 L415.7 214.0 L419.5 218.4M407.9 205.4 L412.9 203.0M420.4 218.2 L419.5 218.4M440.9 199.0 L435.9 204.3 L430.2 208.9M447.7 202.0 L443.9 198.1M407.4 242.1 L403.8 233.3M423.2 238.0 L425.9 243.0 L430.3 246.7M437.4 245.2 L434.9 239.6 L434.2 233.5M434.2 233.5 L432.3 233.5M419.5 218.4 L417.2 221.3M421.5 238.4 L423.2 238.0M440.6 228.7 L434.2 233.5M366.7 165.7 L369.5 160.0 L372.9 154.5 L375.0 148.4M385.1 161.6 L382.7 156.8 L378.8 152.8 L376.5 147.9M376.5 147.9 L382.6 145.2 L388.1 141.6M388.1 141.6 L394.1 145.7M394.1 145.7 L399.2 144.1 L404.4 143.0M404.4 143.0 L406.9 147.7 L410.0 152.1M394.2 149.3 L398.7 152.1 L403.4 154.5M410.0 152.1 L403.4 154.5M403.4 154.5 L397.1 160.6M431.3 118.0 L431.7 123.3 L432.2 128.6 L434.5 133.6 L434.9 138.9 L434.9 144.2M444.3 143.8 L445.4 143.0M445.4 143.0 L445.4 137.9 L447.6 133.1 L447.3 128.0 L446.5 122.9 L447.9 117.9M425.9 147.1 L423.6 140.6 L420.5 134.3M425.9 147.1 L423.2 151.1M423.2 151.1 L421.3 151.6M434.4 144.6 L425.9 147.1M430.0 161.2 L427.6 155.5 L423.2 151.1M413.9 154.9 L413.6 160.1 L411.6 165.0M413.9 154.9 L410.0 152.1M492.8 225.8 L487.4 224.4 L481.5 224.8 L476.4 221.7 L470.8 221.4M470.8 221.4 L467.5 226.4 L465.5 232.1M474.0 207.3 L470.2 211.1 L467.8 215.8M467.7 216.4 L470.8 221.4M469.4 239.7 L469.0 237.0M455.7 231.6 L465.5 232.1M369.5 169.0 L372.4 170.6M384.8 162.5 L381.2 166.9 L377.0 170.7M375.0 148.4 L376.0 147.8M372.4 170.6 L377.0 170.7M502.2 190.3 L497.0 191.0 L491.8 191.8 L486.6 192.6 L481.4 193.6 L476.5 195.8 L471.2 196.0M471.2 196.0 L469.5 190.5 L469.9 184.7 L469.3 179.0M409.3 167.8 L404.5 169.1M427.8 180.3 L427.5 180.5M360.9 134.0 L366.3 134.8 L371.2 137.3M371.2 137.3 L374.0 132.6 L377.9 128.8 L380.9 124.3 L385.7 121.2 L388.3 116.3M388.1 141.6 L387.9 136.5 L389.0 131.4 L387.0 126.4 L388.7 121.3 L388.3 116.3M465.2 138.8 L460.9 139.5M460.9 139.5 L456.0 145.2M456.0 145.2 L459.1 150.6 L460.3 156.7M447.9 117.9 L450.2 122.4 L452.3 127.0 L455.9 130.8 L458.4 135.1 L460.9 139.5M471.5 153.8 L471.4 153.8M445.4 143.0 L450.5 144.9 L456.0 145.2M458.9 158.7 L455.6 161.1M458.9 158.7 L460.3 156.7M451.4 161.0 L455.6 161.1M472.3 173.4 L467.8 168.5 L463.3 163.7 L458.9 158.7M411.0 187.0 L405.7 189.3M396.3 179.4 L401.4 184.0 L405.7 189.3M405.7 189.3 L404.7 195.2 L402.9 201.0M354.2 228.9 L360.6 225.4 L367.4 222.7M340.5 222.7 L346.0 220.7 L351.7 219.1 L357.0 216.8 L362.3 214.1M362.3 214.1 L367.4 222.7M365.1 206.3 L365.2 208.2M362.3 214.1 L365.2 208.2M457.3 178.4 L459.9 179.6M455.6 161.1 L455.9 166.9 L456.8 172.6 L457.3 178.4M469.3 179.0 L459.9 179.6M440.7 179.3 L443.0 181.1M369.3 224.3 L373.9 219.0 L379.7 215.2M359.9 233.8 L366.1 233.5 L372.2 234.1M369.3 224.3 L369.6 229.5 L372.2 234.1M375.4 236.9 L372.2 234.1M384.8 208.5 L384.1 214.8M384.1 214.8 L379.7 215.2M377.0 170.7 L379.3 175.3 L383.1 178.7M374.6 194.5 L377.2 192.9M377.2 192.9 L378.0 187.7 L380.2 183.0 L383.1 178.7M396.3 179.4 L394.1 180.3M383.1 178.7 L388.7 178.5 L394.1 180.3M398.8 200.5 L392.7 202.3M392.7 202.3 L387.1 198.5 L383.0 193.1M390.7 190.2 L383.0 193.1M394.1 180.3 L392.7 185.3 L390.7 190.2M387.9 229.2 L388.4 220.3M388.4 220.3 L393.8 216.9 L400.1 215.8M403.3 232.8 L403.8 227.4 L404.8 222.1M404.8 222.1 L400.1 215.8M394.6 249.1 L392.3 243.3 L392.4 237.1 L390.9 231.1M384.1 214.8 L388.4 220.3M417.2 221.3 L410.9 220.8 L404.8 222.1" stroke="#a0a000" stroke-width="3.6" fill="none" filter="url(#blur2)" opacity="0.60" stroke-linejoin="round"/>
<path d="M366.7 165.7 L364.6 164.8M369.5 169.0 L366.6 173.4 L361.4 175.4 L358.0 179.3M364.6 164.8 L358.1 166.1 L352.1 169.0 L345.7 170.6M484.7 309.5 L484.3 304.2 L481.6 299.5 L481.7 294.0 L479.2 289.3 L476.7 284.5 L477.1 279.0 L474.2 274.4 L473.7 269.1 L471.6 264.2 L471.6 258.8 L470.2 253.7 L467.3 249.1 L466.6 243.9M472.3 173.4 L471.3 177.5M383.9 272.3 L382.9 266.8 L379.6 262.1 L379.5 256.3 L376.5 251.5 L374.7 246.3M394.6 249.1 L395.1 249.4M440.8 177.1 L439.1 172.1 L438.2 166.8 L436.1 162.0M436.1 162.0 L430.0 161.2M427.8 180.3 L434.3 180.7 L440.7 179.3M425.9 167.6 L430.0 161.2M511.4 136.9 L505.9 137.1 L500.5 136.5 L495.0 135.7 L489.5 136.4 L484.1 136.6 L478.6 137.7 L473.2 137.5 L467.7 137.0M438.6 160.0 L437.1 154.9 L436.3 149.6 L434.4 144.6M438.6 160.0 L445.4 158.0M444.3 143.8 L434.9 144.2M434.4 144.6 L434.9 144.2M440.8 177.1 L443.5 171.2 L447.4 166.1 L451.4 161.0M436.1 162.0 L438.6 160.0M451.4 161.0 L445.4 158.0M440.6 228.7 L446.4 230.7 L451.6 233.9M457.0 218.9 L455.0 217.5M359.9 233.8 L354.2 228.9M352.2 192.7 L360.0 187.1M455.0 217.5 L454.9 210.7 L454.0 203.9M467.8 215.8 L467.7 216.4M467.8 215.8 L465.0 211.2 L461.7 207.0 L457.7 203.2M454.0 203.9 L447.7 202.0M429.9 210.2 L430.2 208.9M407.9 205.4 L411.2 210.3 L415.7 214.0 L419.5 218.4M407.9 205.4 L412.9 203.0M420.4 218.2 L419.5 218.4M440.9 199.0 L435.9 204.3 L430.2 208.9M447.7 202.0 L443.9 198.1M407.4 242.1 L403.8 233.3M423.2 238.0 L425.9 243.0 L430.3 246.7M437.4 245.2 L434.9 239.6 L434.2 233.5M434.2 233.5 L432.3 233.5M419.5 218.4 L417.2 221.3M421.5 238.4 L423.2 238.0M440.6 228.7 L434.2 233.5M366.7 165.7 L369.5 160.0 L372.9 154.5 L375.0 148.4M385.1 161.6 L382.7 156.8 L378.8 152.8 L376.5 147.9M376.5 147.9 L382.6 145.2 L388.1 141.6M388.1 141.6 L394.1 145.7M394.1 145.7 L399.2 144.1 L404.4 143.0M404.4 143.0 L406.9 147.7 L410.0 152.1M394.2 149.3 L398.7 152.1 L403.4 154.5M410.0 152.1 L403.4 154.5M403.4 154.5 L397.1 160.6M431.3 118.0 L431.7 123.3 L432.2 128.6 L434.5 133.6 L434.9 138.9 L434.9 144.2M444.3 143.8 L445.4 143.0M445.4 143.0 L445.4 137.9 L447.6 133.1 L447.3 128.0 L446.5 122.9 L447.9 117.9M425.9 147.1 L423.6 140.6 L420.5 134.3M425.9 147.1 L423.2 151.1M423.2 151.1 L421.3 151.6M434.4 144.6 L425.9 147.1M430.0 161.2 L427.6 155.5 L423.2 151.1M413.9 154.9 L413.6 160.1 L411.6 165.0M413.9 154.9 L410.0 152.1M492.8 225.8 L487.4 224.4 L481.5 224.8 L476.4 221.7 L470.8 221.4M470.8 221.4 L467.5 226.4 L465.5 232.1M474.0 207.3 L470.2 211.1 L467.8 215.8M467.7 216.4 L470.8 221.4M469.4 239.7 L469.0 237.0M455.7 231.6 L465.5 232.1M369.5 169.0 L372.4 170.6M384.8 162.5 L381.2 166.9 L377.0 170.7M375.0 148.4 L376.0 147.8M372.4 170.6 L377.0 170.7M502.2 190.3 L497.0 191.0 L491.8 191.8 L486.6 192.6 L481.4 193.6 L476.5 195.8 L471.2 196.0M471.2 196.0 L469.5 190.5 L469.9 184.7 L469.3 179.0M409.3 167.8 L404.5 169.1M427.8 180.3 L427.5 180.5M360.9 134.0 L366.3 134.8 L371.2 137.3M371.2 137.3 L374.0 132.6 L377.9 128.8 L380.9 124.3 L385.7 121.2 L388.3 116.3M388.1 141.6 L387.9 136.5 L389.0 131.4 L387.0 126.4 L388.7 121.3 L388.3 116.3M465.2 138.8 L460.9 139.5M460.9 139.5 L456.0 145.2M456.0 145.2 L459.1 150.6 L460.3 156.7M447.9 117.9 L450.2 122.4 L452.3 127.0 L455.9 130.8 L458.4 135.1 L460.9 139.5M471.5 153.8 L471.4 153.8M445.4 143.0 L450.5 144.9 L456.0 145.2M458.9 158.7 L455.6 161.1M458.9 158.7 L460.3 156.7M451.4 161.0 L455.6 161.1M472.3 173.4 L467.8 168.5 L463.3 163.7 L458.9 158.7M411.0 187.0 L405.7 189.3M396.3 179.4 L401.4 184.0 L405.7 189.3M405.7 189.3 L404.7 195.2 L402.9 201.0M354.2 228.9 L360.6 225.4 L367.4 222.7M340.5 222.7 L346.0 220.7 L351.7 219.1 L357.0 216.8 L362.3 214.1M362.3 214.1 L367.4 222.7M365.1 206.3 L365.2 208.2M362.3 214.1 L365.2 208.2M457.3 178.4 L459.9 179.6M455.6 161.1 L455.9 166.9 L456.8 172.6 L457.3 178.4M469.3 179.0 L459.9 179.6M440.7 179.3 L443.0 181.1M369.3 224.3 L373.9 219.0 L379.7 215.2M359.9 233.8 L366.1 233.5 L372.2 234.1M369.3 224.3 L369.6 229.5 L372.2 234.1M375.4 236.9 L372.2 234.1M384.8 208.5 L384.1 214.8M384.1 214.8 L379.7 215.2M377.0 170.7 L379.3 175.3 L383.1 178.7M374.6 194.5 L377.2 192.9M377.2 192.9 L378.0 187.7 L380.2 183.0 L383.1 178.7M396.3 179.4 L394.1 180.3M383.1 178.7 L388.7 178.5 L394.1 180.3M398.8 200.5 L392.7 202.3M392.7 202.3 L387.1 198.5 L383.0 193.1M390.7 190.2 L383.0 193.1M394.1 180.3 L392.7 185.3 L390.7 190.2M387.9 229.2 L388.4 220.3M388.4 220.3 L393.8 216.9 L400.1 215.8M403.3 232.8 L403.8 227.4 L404.8 222.1M404.8 222.1 L400.1 215.8M394.6 249.1 L392.3 243.3 L392.4 237.1 L390.9 231.1M384.1 214.8 L388.4 220.3M417.2 221.3 L410.9 220.8 L404.8 222.1" stroke="#f4f400" stroke-width="1.4" fill="none" filter="url(#blur1)" opacity="1.0" stroke-linejoin="round"/>
</g>
<g clip-path="url(#cpb11)">
<rect x="469.4" y="139.5" width="107.10000000000002" height="107.1" fill="#141400"/>
<rect x="469.4" y="139.5" width="107.10000000000002" height="107.1" fill="#000" filter="url(#lchaze)" opacity="0.8"/>
<g filter="url(#blur3)">
<ellipse cx="523.0" cy="166.3" rx="18.3" ry="11.7" transform="rotate(0 523.0 166.3)" fill="#000" opacity="0.75"/>
<ellipse cx="523.0" cy="219.7" rx="13.3" ry="10.0" transform="rotate(0 523.0 219.7)" fill="#000" opacity="0.75"/>
<ellipse cx="501.3" cy="193.0" rx="6.7" ry="6.7" transform="rotate(0 501.3 193.0)" fill="#000" opacity="0.75"/>
<ellipse cx="561.3" cy="216.3" rx="6.7" ry="6.7" transform="rotate(0 561.3 216.3)" fill="#000" opacity="0.75"/>
</g>
<g filter="url(#blur2)">
<ellipse cx="488.0" cy="153.0" rx="11.7" ry="13.3" transform="rotate(0 488.0 153.0)" fill="#dada00" opacity="0.85"/>
<ellipse cx="515.5" cy="148.0" rx="10.0" ry="8.3" transform="rotate(0 515.5 148.0)" fill="#404000" opacity="0.54"/>
<ellipse cx="551.3" cy="161.3" rx="9.2" ry="9.2" transform="rotate(0 551.3 161.3)" fill="#404000" opacity="0.48"/>
<ellipse cx="567.2" cy="169.7" rx="7.5" ry="7.5" transform="rotate(0 567.2 169.7)" fill="#404000" opacity="0.54"/>
<ellipse cx="516.3" cy="182.2" rx="8.3" ry="7.5" transform="rotate(0 516.3 182.2)" fill="#404000" opacity="0.54"/>
<ellipse cx="483.0" cy="184.7" rx="12.5" ry="10.0" transform="rotate(0 483.0 184.7)" fill="#dada00" opacity="0.765"/>
<ellipse cx="501.3" cy="206.3" rx="8.3" ry="8.3" transform="rotate(0 501.3 206.3)" fill="#404000" opacity="0.6"/>
<ellipse cx="544.7" cy="199.7" rx="9.2" ry="9.2" transform="rotate(0 544.7 199.7)" fill="#404000" opacity="0.6"/>
<ellipse cx="566.3" cy="204.7" rx="7.5" ry="8.3" transform="rotate(0 566.3 204.7)" fill="#404000" opacity="0.48"/>
<ellipse cx="494.7" cy="226.3" rx="10.0" ry="8.3" transform="rotate(0 494.7 226.3)" fill="#dada00" opacity="0.765"/>
<ellipse cx="531.3" cy="238.0" rx="10.0" ry="8.3" transform="rotate(0 531.3 238.0)" fill="#404000" opacity="0.54"/>
<ellipse cx="544.7" cy="231.3" rx="8.3" ry="10.0" transform="rotate(0 544.7 231.3)" fill="#dada00" opacity="0.765"/>
<ellipse cx="568.0" cy="229.7" rx="8.3" ry="6.7" transform="rotate(0 568.0 229.7)" fill="#404000" opacity="0.48"/>
<ellipse cx="473.0" cy="219.7" rx="5.0" ry="10.0" transform="rotate(0 473.0 219.7)" fill="#dada00" opacity="0.51"/>
<ellipse cx="474.7" cy="158.0" rx="5.0" ry="8.3" transform="rotate(0 474.7 158.0)" fill="#dada00" opacity="0.51"/>
<ellipse cx="568.0" cy="141.3" rx="6.7" ry="3.3" transform="rotate(0 568.0 141.3)" fill="#404000" opacity="0.48"/>
<ellipse cx="543.0" cy="191.3" rx="5.0" ry="6.7" transform="rotate(0 543.0 191.3)" fill="#dada00" opacity="0.765"/>
<ellipse cx="523.0" cy="216.3" rx="6.7" ry="5.8" transform="rotate(0 523.0 216.3)" fill="#dada00" opacity="0.3825"/>
<ellipse cx="561.3" cy="188.0" rx="6.7" ry="6.7" transform="rotate(0 561.3 188.0)" fill="#dada00" opacity="0.425"/>
<ellipse cx="506.3" cy="241.3" rx="6.7" ry="5.0" transform="rotate(0 506.3 241.3)" fill="#404000" opacity="0.42"/>
<ellipse cx="488.0" cy="148.0" rx="11.7" ry="11.7" transform="rotate(0 488.0 148.0)" fill="#f0f000" opacity="0.8"/>
<ellipse cx="543.8" cy="193.0" rx="5.8" ry="8.3" transform="rotate(0 543.8 193.0)" fill="#f0f000" opacity="0.8"/>
<ellipse cx="546.3" cy="233.0" rx="6.7" ry="9.2" transform="rotate(0 546.3 233.0)" fill="#f0f000" opacity="0.7"/>
<ellipse cx="486.3" cy="231.3" rx="8.3" ry="6.7" transform="rotate(0 486.3 231.3)" fill="#f0f000" opacity="0.6"/>
</g>
<g filter="url(#blur1)">
<path d="M500.1 153.0 L499.0 157.6 L496.9 161.5 L494.1 165.0 L490.1 166.6 L485.9 166.5 L482.1 164.7 L479.0 161.6 L476.6 157.8 L476.6 153.0 L477.2 148.5 L479.4 144.7 L482.2 141.6 L486.0 139.8 L490.0 140.3 L493.7 141.6 L496.9 144.5 L499.4 148.2 Z" fill="none" stroke="#f4f400" stroke-width="1.4" opacity="1"/>
<path d="M526.1 148.0 L524.5 150.7 L523.1 153.3 L520.7 155.5 L517.3 156.3 L513.7 156.4 L510.3 155.5 L508.0 153.3 L505.9 150.9 L505.3 148.0 L506.6 145.3 L507.7 142.5 L510.8 141.2 L513.8 140.1 L517.2 140.2 L520.3 141.0 L523.6 142.4 L525.3 145.0 Z" fill="none" stroke="#f4f400" stroke-width="1.4" opacity="0.9"/>
<path d="M560.3 161.3 L560.5 164.7 L558.0 166.9 L555.7 168.9 L552.9 170.3 L549.8 169.8 L546.8 169.2 L544.2 167.3 L542.4 164.6 L541.8 161.3 L542.2 158.0 L544.3 155.4 L546.6 153.1 L549.7 152.0 L553.0 152.0 L555.8 153.6 L558.4 155.4 L560.3 158.1 Z" fill="none" stroke="#f4f400" stroke-width="1.4" opacity="0.8"/>
<path d="M574.7 169.7 L574.6 172.4 L572.9 174.5 L570.8 175.9 L568.4 176.6 L565.9 176.8 L563.3 176.3 L561.5 174.5 L559.8 172.3 L559.8 169.7 L559.8 167.0 L561.6 165.0 L563.1 162.7 L565.9 162.5 L568.5 161.9 L570.9 163.2 L572.7 165.0 L574.7 166.9 Z" fill="none" stroke="#f4f400" stroke-width="1.4" opacity="0.9"/>
<path d="M524.5 182.2 L524.4 184.8 L522.4 186.8 L520.8 189.1 L517.7 189.2 L514.8 190.0 L512.5 188.2 L510.1 186.9 L508.5 184.7 L507.7 182.2 L508.3 179.5 L510.2 177.5 L512.4 176.1 L515.0 175.2 L517.7 175.3 L520.7 175.4 L522.4 177.6 L524.5 179.5 Z" fill="none" stroke="#f4f400" stroke-width="1.4" opacity="0.9"/>
<path d="M495.2 184.7 L494.4 188.0 L492.5 191.1 L489.4 193.5 L485.2 194.8 L480.8 194.5 L476.9 193.2 L473.5 191.0 L470.7 188.2 L470.1 184.7 L471.4 181.3 L473.2 178.1 L476.8 176.1 L480.8 174.6 L485.1 175.0 L489.2 176.1 L492.7 178.2 L494.4 181.4 Z" fill="none" stroke="#f4f400" stroke-width="1.4" opacity="0.9"/>
<path d="M509.9 206.3 L509.4 209.3 L508.2 212.1 L505.6 213.8 L502.8 214.7 L499.9 214.6 L497.1 213.7 L494.5 212.0 L493.9 209.0 L492.5 206.3 L493.7 203.6 L495.4 201.4 L497.3 199.4 L499.9 198.1 L502.8 198.1 L505.5 199.1 L507.8 200.9 L508.6 203.7 Z" fill="none" stroke="#f4f400" stroke-width="1.4" opacity="1"/>
<path d="M554.4 199.7 L553.2 202.8 L551.4 205.3 L549.1 207.3 L546.3 209.0 L543.1 208.5 L540.0 207.7 L537.2 205.9 L536.1 202.8 L535.4 199.7 L536.3 196.6 L537.4 193.6 L540.0 191.5 L543.1 190.8 L546.2 190.8 L549.4 191.5 L551.8 193.6 L553.7 196.4 Z" fill="none" stroke="#f4f400" stroke-width="1.4" opacity="1"/>
<path d="M574.3 204.7 L573.2 207.4 L571.9 209.9 L570.0 211.7 L567.6 213.0 L565.1 212.6 L562.5 212.0 L560.6 210.0 L559.6 207.4 L558.5 204.7 L559.0 201.7 L560.9 199.6 L562.5 197.4 L565.0 196.3 L567.6 196.9 L569.9 197.7 L572.3 199.1 L573.1 201.9 Z" fill="none" stroke="#f4f400" stroke-width="1.4" opacity="0.8"/>
<path d="M504.3 226.3 L503.6 229.0 L502.4 231.7 L500.0 234.0 L496.4 234.5 L492.9 234.8 L489.5 233.8 L487.0 231.7 L485.7 229.1 L485.1 226.3 L485.0 223.4 L486.7 220.8 L489.7 219.2 L492.9 218.1 L496.4 218.2 L499.6 219.2 L502.6 220.8 L503.9 223.5 Z" fill="none" stroke="#f4f400" stroke-width="1.4" opacity="0.9"/>
<path d="M541.5 238.0 L540.2 240.7 L538.6 243.1 L536.2 245.0 L533.1 246.3 L529.6 246.1 L526.2 245.4 L523.9 243.2 L521.4 241.0 L521.2 238.0 L521.5 235.0 L524.0 232.9 L526.5 231.0 L529.6 229.8 L533.1 229.7 L536.4 230.6 L538.5 233.0 L541.1 235.0 Z" fill="none" stroke="#f4f400" stroke-width="1.4" opacity="0.9"/>
<path d="M553.3 231.3 L553.0 235.0 L550.9 237.6 L548.9 240.2 L546.1 241.4 L543.2 241.2 L540.7 239.6 L538.5 237.6 L536.4 235.0 L535.9 231.3 L536.6 227.8 L538.1 224.8 L540.3 222.3 L543.3 221.8 L546.1 221.9 L548.7 223.1 L551.0 224.9 L552.9 227.7 Z" fill="none" stroke="#f4f400" stroke-width="1.4" opacity="0.9"/>
<path d="M576.3 229.7 L576.2 232.0 L574.7 234.1 L572.1 235.3 L569.4 236.1 L566.6 235.9 L563.7 235.6 L561.2 234.2 L560.4 231.9 L559.4 229.7 L560.1 227.4 L561.9 225.6 L563.6 223.6 L566.6 223.4 L569.4 223.3 L572.1 223.9 L574.4 225.4 L576.2 227.3 Z" fill="none" stroke="#f4f400" stroke-width="1.4" opacity="0.8"/>
<path d="M478.0 219.7 L477.7 223.1 L476.7 225.8 L475.6 228.8 L473.8 229.3 L472.1 229.4 L470.4 228.6 L469.3 225.9 L468.5 223.0 L468.0 219.7 L468.3 216.2 L469.4 213.5 L470.4 210.6 L472.2 210.3 L473.9 209.3 L475.6 210.5 L477.0 212.9 L477.9 216.1 Z" fill="none" stroke="#f4f400" stroke-width="1.4" opacity="0.6"/>
<path d="M479.8 158.0 L479.6 161.0 L478.4 163.2 L477.0 164.8 L475.5 166.1 L473.8 165.8 L472.1 165.5 L471.1 163.0 L469.6 161.1 L469.7 158.0 L469.6 154.9 L470.7 152.5 L472.0 150.3 L473.8 149.7 L475.6 149.6 L477.3 150.4 L478.4 152.8 L479.1 155.3 Z" fill="none" stroke="#f4f400" stroke-width="1.4" opacity="0.6"/>
<path d="M575.2 141.3 L574.3 142.5 L572.7 143.3 L571.2 144.1 L569.1 144.5 L566.9 144.4 L564.4 144.5 L563.2 143.4 L561.7 142.5 L561.9 141.3 L561.5 140.2 L562.5 139.0 L564.6 138.4 L566.8 138.0 L569.2 137.8 L571.5 138.3 L572.8 139.3 L573.7 140.3 Z" fill="none" stroke="#f4f400" stroke-width="1.4" opacity="0.8"/>
<path d="M548.4 191.3 L547.7 193.6 L547.0 195.8 L545.5 197.0 L543.9 197.8 L542.2 197.5 L540.3 197.5 L538.9 195.9 L538.6 193.5 L538.0 191.3 L538.2 189.0 L538.9 186.7 L540.6 185.7 L542.1 184.7 L543.9 184.9 L545.4 185.9 L546.8 187.1 L547.3 189.2 Z" fill="none" stroke="#f4f400" stroke-width="1.4" opacity="0.9"/>
<path d="M530.1 216.3 L529.6 218.4 L528.0 220.0 L526.3 221.3 L524.2 222.1 L521.8 222.4 L519.4 221.8 L518.2 219.9 L516.3 218.5 L516.6 216.3 L516.3 214.2 L518.2 212.8 L519.6 211.2 L521.8 210.4 L524.2 210.4 L526.4 211.2 L528.6 212.2 L529.4 214.3 Z" fill="none" stroke="#f4f400" stroke-width="1.4" opacity="0.45"/>
<path d="M568.4 188.0 L567.3 190.2 L566.1 192.0 L564.8 194.0 L562.5 194.6 L560.2 194.2 L558.2 193.4 L555.8 192.6 L555.6 190.1 L554.8 188.0 L555.6 185.9 L556.4 183.9 L557.8 181.9 L560.2 181.7 L562.4 181.7 L564.6 182.4 L566.6 183.6 L567.3 185.8 Z" fill="none" stroke="#f4f400" stroke-width="1.4" opacity="0.5"/>
<path d="M512.9 241.3 L512.1 242.9 L511.4 244.5 L509.4 245.3 L507.5 246.1 L505.3 245.9 L502.7 246.0 L501.7 244.3 L500.0 243.1 L500.2 241.3 L500.2 239.7 L501.0 238.0 L503.1 237.2 L505.1 236.1 L507.5 236.4 L509.5 237.3 L511.2 238.3 L512.5 239.6 Z" fill="none" stroke="#f4f400" stroke-width="1.4" opacity="0.7"/>
</g></g>
<g clip-path="url(#cpb21)">
<rect x="576.5" y="139.5" width="107.10000000000002" height="107.1" fill="#020200"/>
<g filter="url(#blur2)">
<ellipse cx="616.7" cy="153.0" rx="41.7" ry="15.0" transform="rotate(0 616.7 153.0)" fill="#a0a000" opacity="0.08"/>
<ellipse cx="676.7" cy="151.3" rx="6.7" ry="15.0" transform="rotate(0 676.7 151.3)" fill="#a0a000" opacity="0.45"/>
<ellipse cx="581.7" cy="151.3" rx="3.3" ry="7.5" transform="rotate(-4 581.7 151.3)" fill="#b8b800" opacity="0.5459203351281736"/>
<ellipse cx="590.0" cy="148.0" rx="5.8" ry="3.3" transform="rotate(34 590.0 148.0)" fill="#b8b800" opacity="0.5129775245349206"/>
<ellipse cx="596.7" cy="156.3" rx="3.3" ry="7.5" transform="rotate(1 596.7 156.3)" fill="#b8b800" opacity="0.5555846900974639"/>
<ellipse cx="605.0" cy="148.0" rx="5.0" ry="4.2" transform="rotate(-25 605.0 148.0)" fill="#b8b800" opacity="0.5291680236646319"/>
<ellipse cx="615.0" cy="154.7" rx="6.7" ry="3.3" transform="rotate(10 615.0 154.7)" fill="#b8b800" opacity="0.6275419053819834"/>
<ellipse cx="618.3" cy="144.7" rx="4.2" ry="3.3" transform="rotate(-32 618.3 144.7)" fill="#b8b800" opacity="0.4561904419185839"/>
<ellipse cx="630.0" cy="146.3" rx="5.0" ry="4.2" transform="rotate(-33 630.0 146.3)" fill="#b8b800" opacity="0.633375587028512"/>
<ellipse cx="641.7" cy="144.7" rx="5.0" ry="7.5" transform="rotate(15 641.7 144.7)" fill="#b8b800" opacity="0.36465811772944606"/>
<ellipse cx="650.0" cy="154.7" rx="6.7" ry="3.0" transform="rotate(39 650.0 154.7)" fill="#b8b800" opacity="0.6876652233939483"/>
<ellipse cx="600.0" cy="166.3" rx="4.2" ry="5.8" transform="rotate(12 600.0 166.3)" fill="#b8b800" opacity="0.5654469466024997"/>
<ellipse cx="608.3" cy="163.0" rx="2.5" ry="5.0" transform="rotate(-27 608.3 163.0)" fill="#b8b800" opacity="0.3552502579323617"/>
<ellipse cx="618.3" cy="168.0" rx="4.2" ry="5.8" transform="rotate(2 618.3 168.0)" fill="#b8b800" opacity="0.3708428868090992"/>
<ellipse cx="630.0" cy="164.7" rx="3.3" ry="5.0" transform="rotate(-25 630.0 164.7)" fill="#b8b800" opacity="0.4346800547828251"/>
<ellipse cx="638.3" cy="164.7" rx="2.5" ry="4.2" transform="rotate(-38 638.3 164.7)" fill="#b8b800" opacity="0.5123770614281495"/>
<ellipse cx="585.0" cy="171.3" rx="2.5" ry="2.5" transform="rotate(-5 585.0 171.3)" fill="#b8b800" opacity="0.6448494949814861"/>
<ellipse cx="599.2" cy="181.3" rx="3.7" ry="4.2" transform="rotate(2 599.2 181.3)" fill="#b8b800" opacity="0.574102097771712"/>
<ellipse cx="612.5" cy="184.7" rx="5.0" ry="4.2" transform="rotate(-0 612.5 184.7)" fill="#b8b800" opacity="0.5818573361616288"/>
<ellipse cx="619.2" cy="193.0" rx="4.2" ry="3.3" transform="rotate(-3 619.2 193.0)" fill="#b8b800" opacity="0.44735701488236"/>
<ellipse cx="634.2" cy="184.7" rx="2.5" ry="5.0" transform="rotate(40 634.2 184.7)" fill="#b8b800" opacity="0.6984920745796697"/>
<ellipse cx="590.0" cy="194.7" rx="4.2" ry="4.2" transform="rotate(27 590.0 194.7)" fill="#b8b800" opacity="0.5977333675242823"/>
<ellipse cx="646.7" cy="190.5" rx="4.2" ry="2.5" transform="rotate(-15 646.7 190.5)" fill="#b8b800" opacity="0.43038306556276695"/>
<ellipse cx="585.0" cy="194.7" rx="3.3" ry="3.3" transform="rotate(-17 585.0 194.7)" fill="#b8b800" opacity="0.37457822484597403"/>
<ellipse cx="596.7" cy="206.3" rx="3.3" ry="3.3" transform="rotate(21 596.7 206.3)" fill="#b8b800" opacity="0.49013993172147186"/>
<ellipse cx="625.0" cy="205.5" rx="5.0" ry="4.2" transform="rotate(28 625.0 205.5)" fill="#b8b800" opacity="0.48527973609707703"/>
<ellipse cx="636.7" cy="209.7" rx="2.5" ry="5.0" transform="rotate(37 636.7 209.7)" fill="#b8b800" opacity="0.6465584206559816"/>
<ellipse cx="650.0" cy="203.8" rx="5.0" ry="4.2" transform="rotate(-40 650.0 203.8)" fill="#b8b800" opacity="0.42340109515536384"/>
<ellipse cx="615.8" cy="216.3" rx="3.3" ry="4.2" transform="rotate(33 615.8 216.3)" fill="#b8b800" opacity="0.5144955466047832"/>
<ellipse cx="630.0" cy="221.3" rx="4.2" ry="3.3" transform="rotate(38 630.0 221.3)" fill="#b8b800" opacity="0.48909853582774837"/>
<ellipse cx="655.0" cy="215.5" rx="3.3" ry="2.5" transform="rotate(-34 655.0 215.5)" fill="#b8b800" opacity="0.5703092192819084"/>
<ellipse cx="645.0" cy="224.7" rx="3.3" ry="4.2" transform="rotate(22 645.0 224.7)" fill="#b8b800" opacity="0.4444214553975499"/>
<ellipse cx="675.0" cy="231.3" rx="5.0" ry="6.7" transform="rotate(-33 675.0 231.3)" fill="#b8b800" opacity="0.46640496891217176"/>
<ellipse cx="578.3" cy="221.3" rx="3.3" ry="6.7" transform="rotate(37 578.3 221.3)" fill="#b8b800" opacity="0.6153141809478155"/>
<ellipse cx="591.7" cy="224.7" rx="3.3" ry="5.0" transform="rotate(-31 591.7 224.7)" fill="#b8b800" opacity="0.43623578211259545"/>
<ellipse cx="593.3" cy="238.0" rx="5.8" ry="5.0" transform="rotate(-32 593.3 238.0)" fill="#b8b800" opacity="0.37096269102937685"/>
<ellipse cx="638.3" cy="238.0" rx="4.2" ry="4.2" transform="rotate(24 638.3 238.0)" fill="#b8b800" opacity="0.4121873448694281"/>
<ellipse cx="580.0" cy="241.3" rx="5.0" ry="3.3" transform="rotate(5 580.0 241.3)" fill="#b8b800" opacity="0.5065987071253575"/>
<ellipse cx="681.7" cy="208.0" rx="2.5" ry="5.0" transform="rotate(-25 681.7 208.0)" fill="#b8b800" opacity="0.6061629755000226"/>
<ellipse cx="666.7" cy="234.7" rx="3.3" ry="2.5" transform="rotate(-30 666.7 234.7)" fill="#b8b800" opacity="0.5753002932989084"/>
<ellipse cx="678.3" cy="144.7" rx="5.0" ry="6.7" transform="rotate(-31 678.3 144.7)" fill="#b8b800" opacity="0.4972644660362473"/>
<ellipse cx="680.0" cy="159.7" rx="3.3" ry="5.0" transform="rotate(-23 680.0 159.7)" fill="#b8b800" opacity="0.4444282420167094"/>
<ellipse cx="606.7" cy="193.0" rx="2.0" ry="2.0" transform="rotate(38 606.7 193.0)" fill="#b8b800" opacity="0.631194026078725"/>
<ellipse cx="661.7" cy="216.3" rx="2.5" ry="2.0" transform="rotate(-16 661.7 216.3)" fill="#b8b800" opacity="0.6597027894621397"/>
<ellipse cx="581.7" cy="231.3" rx="3.3" ry="3.3" transform="rotate(-23 581.7 231.3)" fill="#b8b800" opacity="0.487996122975219"/>
<ellipse cx="600.0" cy="244.7" rx="3.3" ry="2.5" transform="rotate(28 600.0 244.7)" fill="#b8b800" opacity="0.5746424798066612"/>
<ellipse cx="625.0" cy="243.0" rx="2.5" ry="2.5" transform="rotate(-32 625.0 243.0)" fill="#b8b800" opacity="0.6962555941285603"/>
<ellipse cx="661.7" cy="243.0" rx="3.3" ry="2.5" transform="rotate(-23 661.7 243.0)" fill="#b8b800" opacity="0.44039714525156715"/>
</g></g>
<line x1="650.3" y1="238.9" x2="680" y2="238.9" stroke="#fff" stroke-width="2.4"/></svg></body></html>
